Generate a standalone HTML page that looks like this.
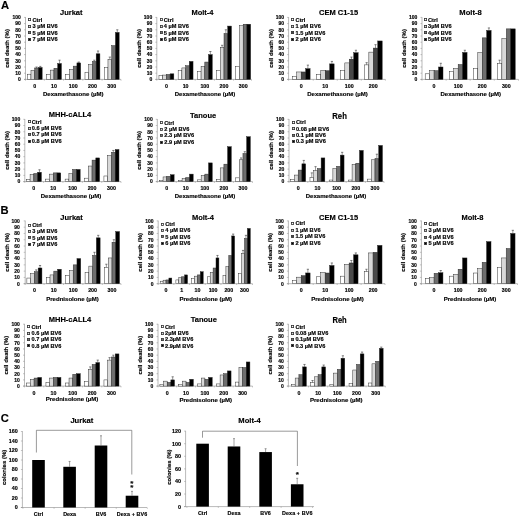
<!DOCTYPE html>
<html><head><meta charset="utf-8"><style>
html,body{margin:0;padding:0;background:#fff;}
body{width:520px;height:517px;overflow:hidden;}
svg{display:block;font-family:"Liberation Sans", sans-serif;filter:grayscale(1);}
</style></head><body>
<svg width="520" height="517" viewBox="0 0 520 517">
<rect width="520" height="517" fill="#fff"/>
<line x1="25.50" y1="17.10" x2="25.50" y2="79.40" stroke="#8a8a8a" stroke-width="0.6"/>
<line x1="24.00" y1="79.40" x2="121.00" y2="79.40" stroke="#8a8a8a" stroke-width="0.6"/>
<line x1="24.00" y1="79.40" x2="25.50" y2="79.40" stroke="#8a8a8a" stroke-width="0.5"/>
<text x="20.90" y="81.20" font-size="5.0" text-anchor="end" font-weight="bold" fill="#000" stroke="#000" stroke-width="0.15" >0</text>
<line x1="24.00" y1="73.20" x2="25.50" y2="73.20" stroke="#8a8a8a" stroke-width="0.5"/>
<text x="20.90" y="75.00" font-size="5.0" text-anchor="end" font-weight="bold" fill="#000" stroke="#000" stroke-width="0.15" >10</text>
<line x1="24.00" y1="67.00" x2="25.50" y2="67.00" stroke="#8a8a8a" stroke-width="0.5"/>
<text x="20.90" y="68.80" font-size="5.0" text-anchor="end" font-weight="bold" fill="#000" stroke="#000" stroke-width="0.15" >20</text>
<line x1="24.00" y1="60.80" x2="25.50" y2="60.80" stroke="#8a8a8a" stroke-width="0.5"/>
<text x="20.90" y="62.60" font-size="5.0" text-anchor="end" font-weight="bold" fill="#000" stroke="#000" stroke-width="0.15" >30</text>
<line x1="24.00" y1="54.60" x2="25.50" y2="54.60" stroke="#8a8a8a" stroke-width="0.5"/>
<text x="20.90" y="56.40" font-size="5.0" text-anchor="end" font-weight="bold" fill="#000" stroke="#000" stroke-width="0.15" >40</text>
<line x1="24.00" y1="48.40" x2="25.50" y2="48.40" stroke="#8a8a8a" stroke-width="0.5"/>
<text x="20.90" y="50.20" font-size="5.0" text-anchor="end" font-weight="bold" fill="#000" stroke="#000" stroke-width="0.15" >50</text>
<line x1="24.00" y1="42.20" x2="25.50" y2="42.20" stroke="#8a8a8a" stroke-width="0.5"/>
<text x="20.90" y="44.00" font-size="5.0" text-anchor="end" font-weight="bold" fill="#000" stroke="#000" stroke-width="0.15" >60</text>
<line x1="24.00" y1="36.00" x2="25.50" y2="36.00" stroke="#8a8a8a" stroke-width="0.5"/>
<text x="20.90" y="37.80" font-size="5.0" text-anchor="end" font-weight="bold" fill="#000" stroke="#000" stroke-width="0.15" >70</text>
<line x1="24.00" y1="29.80" x2="25.50" y2="29.80" stroke="#8a8a8a" stroke-width="0.5"/>
<text x="20.90" y="31.60" font-size="5.0" text-anchor="end" font-weight="bold" fill="#000" stroke="#000" stroke-width="0.15" >80</text>
<line x1="24.00" y1="23.60" x2="25.50" y2="23.60" stroke="#8a8a8a" stroke-width="0.5"/>
<text x="20.90" y="25.40" font-size="5.0" text-anchor="end" font-weight="bold" fill="#000" stroke="#000" stroke-width="0.15" >90</text>
<line x1="24.00" y1="17.40" x2="25.50" y2="17.40" stroke="#8a8a8a" stroke-width="0.5"/>
<text x="20.90" y="19.20" font-size="5.0" text-anchor="end" font-weight="bold" fill="#000" stroke="#000" stroke-width="0.15" >100</text>
<line x1="25.50" y1="79.40" x2="25.50" y2="80.70" stroke="#8a8a8a" stroke-width="0.5"/>
<line x1="44.33" y1="79.40" x2="44.33" y2="80.70" stroke="#8a8a8a" stroke-width="0.5"/>
<line x1="63.58" y1="79.40" x2="63.58" y2="80.70" stroke="#8a8a8a" stroke-width="0.5"/>
<line x1="82.83" y1="79.40" x2="82.83" y2="80.70" stroke="#8a8a8a" stroke-width="0.5"/>
<line x1="102.08" y1="79.40" x2="102.08" y2="80.70" stroke="#8a8a8a" stroke-width="0.5"/>
<line x1="121.00" y1="79.40" x2="121.00" y2="80.70" stroke="#8a8a8a" stroke-width="0.5"/>
<rect x="27.24" y="74.19" width="3.73" height="5.21" fill="#ffffff" stroke="#222" stroke-width="0.45"/>
<rect x="30.97" y="70.22" width="3.73" height="9.18" fill="#d8d8d8" stroke="#222" stroke-width="0.45"/>
<rect x="34.70" y="67.99" width="3.73" height="11.41" fill="#6e6e6e" stroke="#222" stroke-width="0.45"/>
<line x1="36.56" y1="67.00" x2="36.56" y2="67.99" stroke="#444" stroke-width="0.55"/>
<line x1="35.46" y1="67.00" x2="37.66" y2="67.00" stroke="#333" stroke-width="0.6"/>
<rect x="38.43" y="67.50" width="3.73" height="11.90" fill="#000000" stroke="#222" stroke-width="0.45"/>
<line x1="40.29" y1="66.38" x2="40.29" y2="67.50" stroke="#444" stroke-width="0.55"/>
<line x1="39.19" y1="66.38" x2="41.39" y2="66.38" stroke="#333" stroke-width="0.6"/>
<text x="34.70" y="87.70" font-size="5.3" text-anchor="middle" font-weight="bold" fill="#000" stroke="#000" stroke-width="0.15" >0</text>
<rect x="46.49" y="74.44" width="3.73" height="4.96" fill="#ffffff" stroke="#222" stroke-width="0.45"/>
<rect x="50.22" y="70.10" width="3.73" height="9.30" fill="#d8d8d8" stroke="#222" stroke-width="0.45"/>
<rect x="53.95" y="68.24" width="3.73" height="11.16" fill="#6e6e6e" stroke="#222" stroke-width="0.45"/>
<rect x="57.68" y="63.53" width="3.73" height="15.87" fill="#000000" stroke="#222" stroke-width="0.45"/>
<line x1="59.54" y1="60.18" x2="59.54" y2="63.53" stroke="#444" stroke-width="0.55"/>
<line x1="58.44" y1="60.18" x2="60.64" y2="60.18" stroke="#333" stroke-width="0.6"/>
<text x="53.95" y="87.70" font-size="5.3" text-anchor="middle" font-weight="bold" fill="#000" stroke="#000" stroke-width="0.15" >10</text>
<rect x="65.74" y="74.44" width="3.73" height="4.96" fill="#ffffff" stroke="#222" stroke-width="0.45"/>
<rect x="69.47" y="69.23" width="3.73" height="10.17" fill="#d8d8d8" stroke="#222" stroke-width="0.45"/>
<rect x="73.20" y="66.13" width="3.73" height="13.27" fill="#6e6e6e" stroke="#222" stroke-width="0.45"/>
<rect x="76.93" y="62.91" width="3.73" height="16.49" fill="#000000" stroke="#222" stroke-width="0.45"/>
<line x1="78.79" y1="62.04" x2="78.79" y2="62.91" stroke="#444" stroke-width="0.55"/>
<line x1="77.69" y1="62.04" x2="79.89" y2="62.04" stroke="#333" stroke-width="0.6"/>
<text x="73.20" y="87.70" font-size="5.3" text-anchor="middle" font-weight="bold" fill="#000" stroke="#000" stroke-width="0.15" >100</text>
<rect x="84.99" y="72.21" width="3.73" height="7.19" fill="#ffffff" stroke="#222" stroke-width="0.45"/>
<rect x="88.72" y="64.52" width="3.73" height="14.88" fill="#d8d8d8" stroke="#222" stroke-width="0.45"/>
<rect x="92.45" y="61.48" width="3.73" height="17.92" fill="#6e6e6e" stroke="#222" stroke-width="0.45"/>
<line x1="94.31" y1="60.18" x2="94.31" y2="61.48" stroke="#444" stroke-width="0.55"/>
<line x1="93.21" y1="60.18" x2="95.41" y2="60.18" stroke="#333" stroke-width="0.6"/>
<rect x="96.18" y="53.79" width="3.73" height="25.61" fill="#000000" stroke="#222" stroke-width="0.45"/>
<line x1="98.04" y1="51.00" x2="98.04" y2="53.79" stroke="#444" stroke-width="0.55"/>
<line x1="96.94" y1="51.00" x2="99.14" y2="51.00" stroke="#333" stroke-width="0.6"/>
<text x="92.45" y="87.70" font-size="5.3" text-anchor="middle" font-weight="bold" fill="#000" stroke="#000" stroke-width="0.15" >200</text>
<rect x="104.24" y="67.31" width="3.73" height="12.09" fill="#ffffff" stroke="#222" stroke-width="0.45"/>
<rect x="107.97" y="59.25" width="3.73" height="20.15" fill="#d8d8d8" stroke="#222" stroke-width="0.45"/>
<line x1="109.84" y1="57.08" x2="109.84" y2="59.25" stroke="#444" stroke-width="0.55"/>
<line x1="108.74" y1="57.08" x2="110.94" y2="57.08" stroke="#333" stroke-width="0.6"/>
<rect x="111.70" y="45.61" width="3.73" height="33.79" fill="#6e6e6e" stroke="#222" stroke-width="0.45"/>
<rect x="115.43" y="32.40" width="3.73" height="47.00" fill="#000000" stroke="#222" stroke-width="0.45"/>
<line x1="117.29" y1="29.80" x2="117.29" y2="32.40" stroke="#444" stroke-width="0.55"/>
<line x1="116.19" y1="29.80" x2="118.39" y2="29.80" stroke="#333" stroke-width="0.6"/>
<text x="111.70" y="87.70" font-size="5.3" text-anchor="middle" font-weight="bold" fill="#000" stroke="#000" stroke-width="0.15" >300</text>
<text x="71.30" y="15.00" font-size="7.5" text-anchor="middle" font-weight="bold" fill="#000" stroke="#000" stroke-width="0.15" >Jurkat</text>
<text x="73.30" y="96.20" font-size="6.05" text-anchor="middle" font-weight="bold" fill="#000" stroke="#000" stroke-width="0.15" >Dexamethasone (µM)</text>
<text x="7.50" y="48.40" font-size="6.0" text-anchor="middle" font-weight="bold" fill="#000" stroke="#000" stroke-width="0.15" transform="rotate(-90 7.50 48.40)" dominant-baseline="central">cell death (%)</text>
<rect x="28.40" y="18.40" width="2.2" height="2.2" fill="#ffffff" stroke="#333" stroke-width="0.8"/>
<text x="32.50" y="21.80" font-size="5.0" text-anchor="start" font-weight="bold" fill="#000" stroke="#000" stroke-width="0.15" transform="translate(32.50 0) scale(1.13 1) translate(-32.50 0)">Ctrl</text>
<rect x="28.40" y="25.40" width="2.2" height="2.2" fill="#d8d8d8" stroke="#333" stroke-width="0.8"/>
<text x="32.50" y="28.20" font-size="5.0" text-anchor="start" font-weight="bold" fill="#000" stroke="#000" stroke-width="0.15" transform="translate(32.50 0) scale(1.13 1) translate(-32.50 0)">3 µM BV6</text>
<rect x="28.40" y="31.40" width="2.2" height="2.2" fill="#7a7a7a" stroke="#333" stroke-width="0.8"/>
<text x="32.50" y="34.60" font-size="5.0" text-anchor="start" font-weight="bold" fill="#000" stroke="#000" stroke-width="0.15" transform="translate(32.50 0) scale(1.13 1) translate(-32.50 0)">5 µM BV6</text>
<rect x="28.40" y="38.40" width="2.2" height="2.2" fill="#000000" stroke="#333" stroke-width="0.8"/>
<text x="32.50" y="41.00" font-size="5.0" text-anchor="start" font-weight="bold" fill="#000" stroke="#000" stroke-width="0.15" transform="translate(32.50 0) scale(1.13 1) translate(-32.50 0)">7 µM BV6</text>
<line x1="156.80" y1="17.10" x2="156.80" y2="79.40" stroke="#8a8a8a" stroke-width="0.6"/>
<line x1="155.30" y1="79.40" x2="251.50" y2="79.40" stroke="#8a8a8a" stroke-width="0.6"/>
<line x1="155.30" y1="79.40" x2="156.80" y2="79.40" stroke="#8a8a8a" stroke-width="0.5"/>
<text x="152.20" y="81.20" font-size="5.0" text-anchor="end" font-weight="bold" fill="#000" stroke="#000" stroke-width="0.15" >0</text>
<line x1="155.30" y1="73.20" x2="156.80" y2="73.20" stroke="#8a8a8a" stroke-width="0.5"/>
<text x="152.20" y="75.00" font-size="5.0" text-anchor="end" font-weight="bold" fill="#000" stroke="#000" stroke-width="0.15" >10</text>
<line x1="155.30" y1="67.00" x2="156.80" y2="67.00" stroke="#8a8a8a" stroke-width="0.5"/>
<text x="152.20" y="68.80" font-size="5.0" text-anchor="end" font-weight="bold" fill="#000" stroke="#000" stroke-width="0.15" >20</text>
<line x1="155.30" y1="60.80" x2="156.80" y2="60.80" stroke="#8a8a8a" stroke-width="0.5"/>
<text x="152.20" y="62.60" font-size="5.0" text-anchor="end" font-weight="bold" fill="#000" stroke="#000" stroke-width="0.15" >30</text>
<line x1="155.30" y1="54.60" x2="156.80" y2="54.60" stroke="#8a8a8a" stroke-width="0.5"/>
<text x="152.20" y="56.40" font-size="5.0" text-anchor="end" font-weight="bold" fill="#000" stroke="#000" stroke-width="0.15" >40</text>
<line x1="155.30" y1="48.40" x2="156.80" y2="48.40" stroke="#8a8a8a" stroke-width="0.5"/>
<text x="152.20" y="50.20" font-size="5.0" text-anchor="end" font-weight="bold" fill="#000" stroke="#000" stroke-width="0.15" >50</text>
<line x1="155.30" y1="42.20" x2="156.80" y2="42.20" stroke="#8a8a8a" stroke-width="0.5"/>
<text x="152.20" y="44.00" font-size="5.0" text-anchor="end" font-weight="bold" fill="#000" stroke="#000" stroke-width="0.15" >60</text>
<line x1="155.30" y1="36.00" x2="156.80" y2="36.00" stroke="#8a8a8a" stroke-width="0.5"/>
<text x="152.20" y="37.80" font-size="5.0" text-anchor="end" font-weight="bold" fill="#000" stroke="#000" stroke-width="0.15" >70</text>
<line x1="155.30" y1="29.80" x2="156.80" y2="29.80" stroke="#8a8a8a" stroke-width="0.5"/>
<text x="152.20" y="31.60" font-size="5.0" text-anchor="end" font-weight="bold" fill="#000" stroke="#000" stroke-width="0.15" >80</text>
<line x1="155.30" y1="23.60" x2="156.80" y2="23.60" stroke="#8a8a8a" stroke-width="0.5"/>
<text x="152.20" y="25.40" font-size="5.0" text-anchor="end" font-weight="bold" fill="#000" stroke="#000" stroke-width="0.15" >90</text>
<line x1="155.30" y1="17.40" x2="156.80" y2="17.40" stroke="#8a8a8a" stroke-width="0.5"/>
<text x="152.20" y="19.20" font-size="5.0" text-anchor="end" font-weight="bold" fill="#000" stroke="#000" stroke-width="0.15" >100</text>
<line x1="156.80" y1="79.40" x2="156.80" y2="80.70" stroke="#8a8a8a" stroke-width="0.5"/>
<line x1="176.00" y1="79.40" x2="176.00" y2="80.70" stroke="#8a8a8a" stroke-width="0.5"/>
<line x1="195.20" y1="79.40" x2="195.20" y2="80.70" stroke="#8a8a8a" stroke-width="0.5"/>
<line x1="214.40" y1="79.40" x2="214.40" y2="80.70" stroke="#8a8a8a" stroke-width="0.5"/>
<line x1="233.60" y1="79.40" x2="233.60" y2="80.70" stroke="#8a8a8a" stroke-width="0.5"/>
<line x1="251.50" y1="79.40" x2="251.50" y2="80.70" stroke="#8a8a8a" stroke-width="0.5"/>
<rect x="158.96" y="75.68" width="3.72" height="3.72" fill="#ffffff" stroke="#222" stroke-width="0.45"/>
<rect x="162.68" y="75.06" width="3.72" height="4.34" fill="#d8d8d8" stroke="#222" stroke-width="0.45"/>
<rect x="166.40" y="74.44" width="3.72" height="4.96" fill="#6e6e6e" stroke="#222" stroke-width="0.45"/>
<rect x="170.12" y="73.82" width="3.72" height="5.58" fill="#000000" stroke="#222" stroke-width="0.45"/>
<text x="166.40" y="87.70" font-size="5.3" text-anchor="middle" font-weight="bold" fill="#000" stroke="#000" stroke-width="0.15" >0</text>
<rect x="178.16" y="70.72" width="3.72" height="8.68" fill="#ffffff" stroke="#222" stroke-width="0.45"/>
<rect x="181.88" y="67.93" width="3.72" height="11.47" fill="#d8d8d8" stroke="#222" stroke-width="0.45"/>
<rect x="185.60" y="65.76" width="3.72" height="13.64" fill="#6e6e6e" stroke="#222" stroke-width="0.45"/>
<rect x="189.32" y="61.42" width="3.72" height="17.98" fill="#000000" stroke="#222" stroke-width="0.45"/>
<text x="185.60" y="87.70" font-size="5.3" text-anchor="middle" font-weight="bold" fill="#000" stroke="#000" stroke-width="0.15" >10</text>
<rect x="197.36" y="71.34" width="3.72" height="8.06" fill="#ffffff" stroke="#222" stroke-width="0.45"/>
<rect x="201.08" y="66.38" width="3.72" height="13.02" fill="#d8d8d8" stroke="#222" stroke-width="0.45"/>
<rect x="204.80" y="62.04" width="3.72" height="17.36" fill="#6e6e6e" stroke="#222" stroke-width="0.45"/>
<rect x="208.52" y="54.60" width="3.72" height="24.80" fill="#000000" stroke="#222" stroke-width="0.45"/>
<line x1="210.38" y1="51.50" x2="210.38" y2="54.60" stroke="#444" stroke-width="0.55"/>
<line x1="209.28" y1="51.50" x2="211.48" y2="51.50" stroke="#333" stroke-width="0.6"/>
<text x="204.80" y="87.70" font-size="5.3" text-anchor="middle" font-weight="bold" fill="#000" stroke="#000" stroke-width="0.15" >100</text>
<rect x="216.56" y="70.41" width="3.72" height="8.99" fill="#ffffff" stroke="#222" stroke-width="0.45"/>
<rect x="220.28" y="47.41" width="3.72" height="31.99" fill="#d8d8d8" stroke="#222" stroke-width="0.45"/>
<line x1="222.14" y1="45.30" x2="222.14" y2="47.41" stroke="#444" stroke-width="0.55"/>
<line x1="221.04" y1="45.30" x2="223.24" y2="45.30" stroke="#333" stroke-width="0.6"/>
<rect x="224.00" y="33.52" width="3.72" height="45.88" fill="#6e6e6e" stroke="#222" stroke-width="0.45"/>
<line x1="225.86" y1="29.80" x2="225.86" y2="33.52" stroke="#444" stroke-width="0.55"/>
<line x1="224.76" y1="29.80" x2="226.96" y2="29.80" stroke="#333" stroke-width="0.6"/>
<rect x="227.72" y="26.08" width="3.72" height="53.32" fill="#000000" stroke="#222" stroke-width="0.45"/>
<text x="224.00" y="87.70" font-size="5.3" text-anchor="middle" font-weight="bold" fill="#000" stroke="#000" stroke-width="0.15" >200</text>
<rect x="235.76" y="66.38" width="3.72" height="13.02" fill="#ffffff" stroke="#222" stroke-width="0.45"/>
<rect x="239.48" y="25.77" width="3.72" height="53.63" fill="#d8d8d8" stroke="#222" stroke-width="0.45"/>
<rect x="243.20" y="24.22" width="3.72" height="55.18" fill="#6e6e6e" stroke="#222" stroke-width="0.45"/>
<rect x="246.92" y="24.22" width="3.72" height="55.18" fill="#000000" stroke="#222" stroke-width="0.45"/>
<text x="243.20" y="87.70" font-size="5.3" text-anchor="middle" font-weight="bold" fill="#000" stroke="#000" stroke-width="0.15" >300</text>
<text x="202.50" y="15.00" font-size="7.5" text-anchor="middle" font-weight="bold" fill="#000" stroke="#000" stroke-width="0.15" >Molt-4</text>
<text x="205.00" y="96.20" font-size="6.05" text-anchor="middle" font-weight="bold" fill="#000" stroke="#000" stroke-width="0.15" >Dexamethasone (µM)</text>
<text x="138.80" y="48.40" font-size="6.0" text-anchor="middle" font-weight="bold" fill="#000" stroke="#000" stroke-width="0.15" transform="rotate(-90 138.80 48.40)" dominant-baseline="central">cell death (%)</text>
<rect x="160.40" y="18.40" width="2.2" height="2.2" fill="#ffffff" stroke="#333" stroke-width="0.8"/>
<text x="163.80" y="21.80" font-size="5.0" text-anchor="start" font-weight="bold" fill="#000" stroke="#000" stroke-width="0.15" transform="translate(163.80 0) scale(1.13 1) translate(-163.80 0)">Ctrl</text>
<rect x="160.40" y="25.40" width="2.2" height="2.2" fill="#d8d8d8" stroke="#333" stroke-width="0.8"/>
<text x="163.80" y="28.20" font-size="5.0" text-anchor="start" font-weight="bold" fill="#000" stroke="#000" stroke-width="0.15" transform="translate(163.80 0) scale(1.13 1) translate(-163.80 0)">4 µM BV6</text>
<rect x="160.40" y="31.40" width="2.2" height="2.2" fill="#7a7a7a" stroke="#333" stroke-width="0.8"/>
<text x="163.80" y="34.60" font-size="5.0" text-anchor="start" font-weight="bold" fill="#000" stroke="#000" stroke-width="0.15" transform="translate(163.80 0) scale(1.13 1) translate(-163.80 0)">5 µM BV6</text>
<rect x="160.40" y="38.40" width="2.2" height="2.2" fill="#000000" stroke="#333" stroke-width="0.8"/>
<text x="163.80" y="41.00" font-size="5.0" text-anchor="start" font-weight="bold" fill="#000" stroke="#000" stroke-width="0.15" transform="translate(163.80 0) scale(1.13 1) translate(-163.80 0)">6 µM BV6</text>
<line x1="288.60" y1="17.10" x2="288.60" y2="79.40" stroke="#8a8a8a" stroke-width="0.6"/>
<line x1="287.10" y1="79.40" x2="385.40" y2="79.40" stroke="#8a8a8a" stroke-width="0.6"/>
<line x1="287.10" y1="79.40" x2="288.60" y2="79.40" stroke="#8a8a8a" stroke-width="0.5"/>
<text x="284.00" y="81.20" font-size="5.0" text-anchor="end" font-weight="bold" fill="#000" stroke="#000" stroke-width="0.15" >0</text>
<line x1="287.10" y1="73.20" x2="288.60" y2="73.20" stroke="#8a8a8a" stroke-width="0.5"/>
<text x="284.00" y="75.00" font-size="5.0" text-anchor="end" font-weight="bold" fill="#000" stroke="#000" stroke-width="0.15" >10</text>
<line x1="287.10" y1="67.00" x2="288.60" y2="67.00" stroke="#8a8a8a" stroke-width="0.5"/>
<text x="284.00" y="68.80" font-size="5.0" text-anchor="end" font-weight="bold" fill="#000" stroke="#000" stroke-width="0.15" >20</text>
<line x1="287.10" y1="60.80" x2="288.60" y2="60.80" stroke="#8a8a8a" stroke-width="0.5"/>
<text x="284.00" y="62.60" font-size="5.0" text-anchor="end" font-weight="bold" fill="#000" stroke="#000" stroke-width="0.15" >30</text>
<line x1="287.10" y1="54.60" x2="288.60" y2="54.60" stroke="#8a8a8a" stroke-width="0.5"/>
<text x="284.00" y="56.40" font-size="5.0" text-anchor="end" font-weight="bold" fill="#000" stroke="#000" stroke-width="0.15" >40</text>
<line x1="287.10" y1="48.40" x2="288.60" y2="48.40" stroke="#8a8a8a" stroke-width="0.5"/>
<text x="284.00" y="50.20" font-size="5.0" text-anchor="end" font-weight="bold" fill="#000" stroke="#000" stroke-width="0.15" >50</text>
<line x1="287.10" y1="42.20" x2="288.60" y2="42.20" stroke="#8a8a8a" stroke-width="0.5"/>
<text x="284.00" y="44.00" font-size="5.0" text-anchor="end" font-weight="bold" fill="#000" stroke="#000" stroke-width="0.15" >60</text>
<line x1="287.10" y1="36.00" x2="288.60" y2="36.00" stroke="#8a8a8a" stroke-width="0.5"/>
<text x="284.00" y="37.80" font-size="5.0" text-anchor="end" font-weight="bold" fill="#000" stroke="#000" stroke-width="0.15" >70</text>
<line x1="287.10" y1="29.80" x2="288.60" y2="29.80" stroke="#8a8a8a" stroke-width="0.5"/>
<text x="284.00" y="31.60" font-size="5.0" text-anchor="end" font-weight="bold" fill="#000" stroke="#000" stroke-width="0.15" >80</text>
<line x1="287.10" y1="23.60" x2="288.60" y2="23.60" stroke="#8a8a8a" stroke-width="0.5"/>
<text x="284.00" y="25.40" font-size="5.0" text-anchor="end" font-weight="bold" fill="#000" stroke="#000" stroke-width="0.15" >90</text>
<line x1="287.10" y1="17.40" x2="288.60" y2="17.40" stroke="#8a8a8a" stroke-width="0.5"/>
<text x="284.00" y="19.20" font-size="5.0" text-anchor="end" font-weight="bold" fill="#000" stroke="#000" stroke-width="0.15" >100</text>
<line x1="288.60" y1="79.40" x2="288.60" y2="80.70" stroke="#8a8a8a" stroke-width="0.5"/>
<line x1="313.22" y1="79.40" x2="313.22" y2="80.70" stroke="#8a8a8a" stroke-width="0.5"/>
<line x1="337.25" y1="79.40" x2="337.25" y2="80.70" stroke="#8a8a8a" stroke-width="0.5"/>
<line x1="361.27" y1="79.40" x2="361.27" y2="80.70" stroke="#8a8a8a" stroke-width="0.5"/>
<line x1="385.40" y1="79.40" x2="385.40" y2="80.70" stroke="#8a8a8a" stroke-width="0.5"/>
<rect x="292.31" y="76.42" width="4.45" height="2.98" fill="#ffffff" stroke="#222" stroke-width="0.45"/>
<rect x="296.75" y="71.96" width="4.45" height="7.44" fill="#d8d8d8" stroke="#222" stroke-width="0.45"/>
<rect x="301.20" y="71.96" width="4.45" height="7.44" fill="#464646" stroke="#222" stroke-width="0.45"/>
<rect x="305.65" y="68.67" width="4.45" height="10.73" fill="#000000" stroke="#222" stroke-width="0.45"/>
<line x1="307.87" y1="65.14" x2="307.87" y2="68.67" stroke="#444" stroke-width="0.55"/>
<line x1="306.77" y1="65.14" x2="308.97" y2="65.14" stroke="#333" stroke-width="0.6"/>
<text x="301.20" y="87.70" font-size="5.3" text-anchor="middle" font-weight="bold" fill="#000" stroke="#000" stroke-width="0.15" >0</text>
<rect x="316.34" y="74.44" width="4.45" height="4.96" fill="#ffffff" stroke="#222" stroke-width="0.45"/>
<rect x="320.78" y="70.41" width="4.45" height="8.99" fill="#d8d8d8" stroke="#222" stroke-width="0.45"/>
<rect x="325.23" y="70.72" width="4.45" height="8.68" fill="#464646" stroke="#222" stroke-width="0.45"/>
<rect x="329.68" y="63.90" width="4.45" height="15.50" fill="#000000" stroke="#222" stroke-width="0.45"/>
<line x1="331.90" y1="61.42" x2="331.90" y2="63.90" stroke="#444" stroke-width="0.55"/>
<line x1="330.80" y1="61.42" x2="333.00" y2="61.42" stroke="#333" stroke-width="0.6"/>
<text x="325.23" y="87.70" font-size="5.3" text-anchor="middle" font-weight="bold" fill="#000" stroke="#000" stroke-width="0.15" >10</text>
<rect x="340.37" y="70.41" width="4.45" height="8.99" fill="#ffffff" stroke="#222" stroke-width="0.45"/>
<rect x="344.81" y="62.91" width="4.45" height="16.49" fill="#d8d8d8" stroke="#222" stroke-width="0.45"/>
<rect x="349.26" y="59.19" width="4.45" height="20.21" fill="#464646" stroke="#222" stroke-width="0.45"/>
<line x1="351.48" y1="57.08" x2="351.48" y2="59.19" stroke="#444" stroke-width="0.55"/>
<line x1="350.38" y1="57.08" x2="352.58" y2="57.08" stroke="#333" stroke-width="0.6"/>
<rect x="353.71" y="52.74" width="4.45" height="26.66" fill="#000000" stroke="#222" stroke-width="0.45"/>
<line x1="355.93" y1="50.26" x2="355.93" y2="52.74" stroke="#444" stroke-width="0.55"/>
<line x1="354.83" y1="50.26" x2="357.03" y2="50.26" stroke="#333" stroke-width="0.6"/>
<text x="349.26" y="87.70" font-size="5.3" text-anchor="middle" font-weight="bold" fill="#000" stroke="#000" stroke-width="0.15" >100</text>
<rect x="364.40" y="64.89" width="4.45" height="14.51" fill="#ffffff" stroke="#222" stroke-width="0.45"/>
<line x1="366.62" y1="62.66" x2="366.62" y2="64.89" stroke="#444" stroke-width="0.55"/>
<line x1="365.52" y1="62.66" x2="367.72" y2="62.66" stroke="#333" stroke-width="0.6"/>
<rect x="368.84" y="52.12" width="4.45" height="27.28" fill="#d8d8d8" stroke="#222" stroke-width="0.45"/>
<rect x="373.29" y="48.09" width="4.45" height="31.31" fill="#464646" stroke="#222" stroke-width="0.45"/>
<line x1="375.51" y1="44.68" x2="375.51" y2="48.09" stroke="#444" stroke-width="0.55"/>
<line x1="374.41" y1="44.68" x2="376.61" y2="44.68" stroke="#333" stroke-width="0.6"/>
<rect x="377.74" y="40.96" width="4.45" height="38.44" fill="#000000" stroke="#222" stroke-width="0.45"/>
<text x="373.29" y="87.70" font-size="5.3" text-anchor="middle" font-weight="bold" fill="#000" stroke="#000" stroke-width="0.15" >200</text>
<text x="338.60" y="15.00" font-size="7.5" text-anchor="middle" font-weight="bold" fill="#000" stroke="#000" stroke-width="0.15" >CEM C1-15</text>
<text x="337.50" y="96.20" font-size="6.05" text-anchor="middle" font-weight="bold" fill="#000" stroke="#000" stroke-width="0.15" >Dexamethasone (µM)</text>
<text x="270.60" y="48.40" font-size="6.0" text-anchor="middle" font-weight="bold" fill="#000" stroke="#000" stroke-width="0.15" transform="rotate(-90 270.60 48.40)" dominant-baseline="central">cell death (%)</text>
<rect x="291.40" y="18.40" width="2.2" height="2.2" fill="#ffffff" stroke="#333" stroke-width="0.8"/>
<text x="295.60" y="21.80" font-size="5.0" text-anchor="start" font-weight="bold" fill="#000" stroke="#000" stroke-width="0.15" transform="translate(295.60 0) scale(1.13 1) translate(-295.60 0)">Ctrl</text>
<rect x="291.40" y="25.40" width="2.2" height="2.2" fill="#d8d8d8" stroke="#333" stroke-width="0.8"/>
<text x="295.60" y="28.20" font-size="5.0" text-anchor="start" font-weight="bold" fill="#000" stroke="#000" stroke-width="0.15" transform="translate(295.60 0) scale(1.13 1) translate(-295.60 0)">1 µM BV6</text>
<rect x="291.40" y="31.40" width="2.2" height="2.2" fill="#464646" stroke="#333" stroke-width="0.8"/>
<text x="295.60" y="34.60" font-size="5.0" text-anchor="start" font-weight="bold" fill="#000" stroke="#000" stroke-width="0.15" transform="translate(295.60 0) scale(1.13 1) translate(-295.60 0)">1.5 µM BV6</text>
<rect x="291.40" y="38.40" width="2.2" height="2.2" fill="#000000" stroke="#333" stroke-width="0.8"/>
<text x="295.60" y="41.00" font-size="5.0" text-anchor="start" font-weight="bold" fill="#000" stroke="#000" stroke-width="0.15" transform="translate(295.60 0) scale(1.13 1) translate(-295.60 0)">2 µM BV6</text>
<line x1="422.00" y1="17.10" x2="422.00" y2="79.40" stroke="#8a8a8a" stroke-width="0.6"/>
<line x1="420.50" y1="79.40" x2="518.50" y2="79.40" stroke="#8a8a8a" stroke-width="0.6"/>
<line x1="420.50" y1="79.40" x2="422.00" y2="79.40" stroke="#8a8a8a" stroke-width="0.5"/>
<text x="417.40" y="81.20" font-size="5.0" text-anchor="end" font-weight="bold" fill="#000" stroke="#000" stroke-width="0.15" >0</text>
<line x1="420.50" y1="73.20" x2="422.00" y2="73.20" stroke="#8a8a8a" stroke-width="0.5"/>
<text x="417.40" y="75.00" font-size="5.0" text-anchor="end" font-weight="bold" fill="#000" stroke="#000" stroke-width="0.15" >10</text>
<line x1="420.50" y1="67.00" x2="422.00" y2="67.00" stroke="#8a8a8a" stroke-width="0.5"/>
<text x="417.40" y="68.80" font-size="5.0" text-anchor="end" font-weight="bold" fill="#000" stroke="#000" stroke-width="0.15" >20</text>
<line x1="420.50" y1="60.80" x2="422.00" y2="60.80" stroke="#8a8a8a" stroke-width="0.5"/>
<text x="417.40" y="62.60" font-size="5.0" text-anchor="end" font-weight="bold" fill="#000" stroke="#000" stroke-width="0.15" >30</text>
<line x1="420.50" y1="54.60" x2="422.00" y2="54.60" stroke="#8a8a8a" stroke-width="0.5"/>
<text x="417.40" y="56.40" font-size="5.0" text-anchor="end" font-weight="bold" fill="#000" stroke="#000" stroke-width="0.15" >40</text>
<line x1="420.50" y1="48.40" x2="422.00" y2="48.40" stroke="#8a8a8a" stroke-width="0.5"/>
<text x="417.40" y="50.20" font-size="5.0" text-anchor="end" font-weight="bold" fill="#000" stroke="#000" stroke-width="0.15" >50</text>
<line x1="420.50" y1="42.20" x2="422.00" y2="42.20" stroke="#8a8a8a" stroke-width="0.5"/>
<text x="417.40" y="44.00" font-size="5.0" text-anchor="end" font-weight="bold" fill="#000" stroke="#000" stroke-width="0.15" >60</text>
<line x1="420.50" y1="36.00" x2="422.00" y2="36.00" stroke="#8a8a8a" stroke-width="0.5"/>
<text x="417.40" y="37.80" font-size="5.0" text-anchor="end" font-weight="bold" fill="#000" stroke="#000" stroke-width="0.15" >70</text>
<line x1="420.50" y1="29.80" x2="422.00" y2="29.80" stroke="#8a8a8a" stroke-width="0.5"/>
<text x="417.40" y="31.60" font-size="5.0" text-anchor="end" font-weight="bold" fill="#000" stroke="#000" stroke-width="0.15" >80</text>
<line x1="420.50" y1="23.60" x2="422.00" y2="23.60" stroke="#8a8a8a" stroke-width="0.5"/>
<text x="417.40" y="25.40" font-size="5.0" text-anchor="end" font-weight="bold" fill="#000" stroke="#000" stroke-width="0.15" >90</text>
<line x1="420.50" y1="17.40" x2="422.00" y2="17.40" stroke="#8a8a8a" stroke-width="0.5"/>
<text x="417.40" y="19.20" font-size="5.0" text-anchor="end" font-weight="bold" fill="#000" stroke="#000" stroke-width="0.15" >100</text>
<line x1="422.00" y1="79.40" x2="422.00" y2="80.70" stroke="#8a8a8a" stroke-width="0.5"/>
<line x1="446.13" y1="79.40" x2="446.13" y2="80.70" stroke="#8a8a8a" stroke-width="0.5"/>
<line x1="470.20" y1="79.40" x2="470.20" y2="80.70" stroke="#8a8a8a" stroke-width="0.5"/>
<line x1="494.27" y1="79.40" x2="494.27" y2="80.70" stroke="#8a8a8a" stroke-width="0.5"/>
<line x1="518.50" y1="79.40" x2="518.50" y2="80.70" stroke="#8a8a8a" stroke-width="0.5"/>
<rect x="425.19" y="73.82" width="4.45" height="5.58" fill="#ffffff" stroke="#222" stroke-width="0.45"/>
<rect x="429.65" y="70.72" width="4.45" height="8.68" fill="#d8d8d8" stroke="#222" stroke-width="0.45"/>
<rect x="434.10" y="70.72" width="4.45" height="8.68" fill="#6e6e6e" stroke="#222" stroke-width="0.45"/>
<rect x="438.55" y="67.00" width="4.45" height="12.40" fill="#000000" stroke="#222" stroke-width="0.45"/>
<line x1="440.78" y1="63.28" x2="440.78" y2="67.00" stroke="#444" stroke-width="0.55"/>
<line x1="439.68" y1="63.28" x2="441.88" y2="63.28" stroke="#333" stroke-width="0.6"/>
<text x="434.10" y="87.70" font-size="5.3" text-anchor="middle" font-weight="bold" fill="#000" stroke="#000" stroke-width="0.15" >0</text>
<rect x="449.26" y="71.34" width="4.45" height="8.06" fill="#ffffff" stroke="#222" stroke-width="0.45"/>
<rect x="453.72" y="68.24" width="4.45" height="11.16" fill="#d8d8d8" stroke="#222" stroke-width="0.45"/>
<rect x="458.17" y="64.52" width="4.45" height="14.88" fill="#6e6e6e" stroke="#222" stroke-width="0.45"/>
<rect x="462.62" y="52.43" width="4.45" height="26.97" fill="#000000" stroke="#222" stroke-width="0.45"/>
<line x1="464.85" y1="50.26" x2="464.85" y2="52.43" stroke="#444" stroke-width="0.55"/>
<line x1="463.75" y1="50.26" x2="465.95" y2="50.26" stroke="#333" stroke-width="0.6"/>
<text x="458.17" y="87.70" font-size="5.3" text-anchor="middle" font-weight="bold" fill="#000" stroke="#000" stroke-width="0.15" >100</text>
<rect x="473.33" y="68.24" width="4.45" height="11.16" fill="#ffffff" stroke="#222" stroke-width="0.45"/>
<rect x="477.79" y="52.43" width="4.45" height="26.97" fill="#d8d8d8" stroke="#222" stroke-width="0.45"/>
<rect x="482.24" y="37.86" width="4.45" height="41.54" fill="#6e6e6e" stroke="#222" stroke-width="0.45"/>
<rect x="486.69" y="30.42" width="4.45" height="48.98" fill="#000000" stroke="#222" stroke-width="0.45"/>
<line x1="488.92" y1="27.94" x2="488.92" y2="30.42" stroke="#444" stroke-width="0.55"/>
<line x1="487.82" y1="27.94" x2="490.02" y2="27.94" stroke="#333" stroke-width="0.6"/>
<text x="482.24" y="87.70" font-size="5.3" text-anchor="middle" font-weight="bold" fill="#000" stroke="#000" stroke-width="0.15" >200</text>
<rect x="497.40" y="63.28" width="4.45" height="16.12" fill="#ffffff" stroke="#222" stroke-width="0.45"/>
<line x1="499.63" y1="60.18" x2="499.63" y2="63.28" stroke="#444" stroke-width="0.55"/>
<line x1="498.53" y1="60.18" x2="500.73" y2="60.18" stroke="#333" stroke-width="0.6"/>
<rect x="501.86" y="38.48" width="4.45" height="40.92" fill="#d8d8d8" stroke="#222" stroke-width="0.45"/>
<rect x="506.31" y="28.87" width="4.45" height="50.53" fill="#6e6e6e" stroke="#222" stroke-width="0.45"/>
<rect x="510.76" y="28.87" width="4.45" height="50.53" fill="#000000" stroke="#222" stroke-width="0.45"/>
<text x="506.31" y="87.70" font-size="5.3" text-anchor="middle" font-weight="bold" fill="#000" stroke="#000" stroke-width="0.15" >300</text>
<text x="470.50" y="15.00" font-size="7.6" text-anchor="middle" font-weight="bold" fill="#000" stroke="#000" stroke-width="0.15" >Molt-8</text>
<text x="470.80" y="96.20" font-size="6.05" text-anchor="middle" font-weight="bold" fill="#000" stroke="#000" stroke-width="0.15" >Dexamethasone (µM)</text>
<text x="404.00" y="48.40" font-size="6.0" text-anchor="middle" font-weight="bold" fill="#000" stroke="#000" stroke-width="0.15" transform="rotate(-90 404.00 48.40)" dominant-baseline="central">cell death (%)</text>
<rect x="424.40" y="18.40" width="2.2" height="2.2" fill="#ffffff" stroke="#333" stroke-width="0.8"/>
<text x="428.00" y="21.80" font-size="5.0" text-anchor="start" font-weight="bold" fill="#000" stroke="#000" stroke-width="0.15" transform="translate(428.00 0) scale(1.13 1) translate(-428.00 0)">Ctrl</text>
<rect x="424.40" y="25.40" width="2.2" height="2.2" fill="#d8d8d8" stroke="#333" stroke-width="0.8"/>
<text x="428.00" y="28.20" font-size="5.0" text-anchor="start" font-weight="bold" fill="#000" stroke="#000" stroke-width="0.15" transform="translate(428.00 0) scale(1.13 1) translate(-428.00 0)">3µM BV6</text>
<rect x="424.40" y="31.40" width="2.2" height="2.2" fill="#7a7a7a" stroke="#333" stroke-width="0.8"/>
<text x="428.00" y="34.60" font-size="5.0" text-anchor="start" font-weight="bold" fill="#000" stroke="#000" stroke-width="0.15" transform="translate(428.00 0) scale(1.13 1) translate(-428.00 0)">4µM BV6</text>
<rect x="424.40" y="38.40" width="2.2" height="2.2" fill="#000000" stroke="#333" stroke-width="0.8"/>
<text x="428.00" y="41.00" font-size="5.0" text-anchor="start" font-weight="bold" fill="#000" stroke="#000" stroke-width="0.15" transform="translate(428.00 0) scale(1.13 1) translate(-428.00 0)">5µM BV6</text>
<line x1="24.80" y1="119.00" x2="24.80" y2="181.60" stroke="#8a8a8a" stroke-width="0.6"/>
<line x1="23.30" y1="181.60" x2="121.00" y2="181.60" stroke="#8a8a8a" stroke-width="0.6"/>
<line x1="23.30" y1="181.60" x2="24.80" y2="181.60" stroke="#8a8a8a" stroke-width="0.5"/>
<text x="20.20" y="183.40" font-size="5.0" text-anchor="end" font-weight="bold" fill="#000" stroke="#000" stroke-width="0.15" >0</text>
<line x1="23.30" y1="175.37" x2="24.80" y2="175.37" stroke="#8a8a8a" stroke-width="0.5"/>
<text x="20.20" y="177.17" font-size="5.0" text-anchor="end" font-weight="bold" fill="#000" stroke="#000" stroke-width="0.15" >10</text>
<line x1="23.30" y1="169.14" x2="24.80" y2="169.14" stroke="#8a8a8a" stroke-width="0.5"/>
<text x="20.20" y="170.94" font-size="5.0" text-anchor="end" font-weight="bold" fill="#000" stroke="#000" stroke-width="0.15" >20</text>
<line x1="23.30" y1="162.91" x2="24.80" y2="162.91" stroke="#8a8a8a" stroke-width="0.5"/>
<text x="20.20" y="164.71" font-size="5.0" text-anchor="end" font-weight="bold" fill="#000" stroke="#000" stroke-width="0.15" >30</text>
<line x1="23.30" y1="156.68" x2="24.80" y2="156.68" stroke="#8a8a8a" stroke-width="0.5"/>
<text x="20.20" y="158.48" font-size="5.0" text-anchor="end" font-weight="bold" fill="#000" stroke="#000" stroke-width="0.15" >40</text>
<line x1="23.30" y1="150.45" x2="24.80" y2="150.45" stroke="#8a8a8a" stroke-width="0.5"/>
<text x="20.20" y="152.25" font-size="5.0" text-anchor="end" font-weight="bold" fill="#000" stroke="#000" stroke-width="0.15" >50</text>
<line x1="23.30" y1="144.22" x2="24.80" y2="144.22" stroke="#8a8a8a" stroke-width="0.5"/>
<text x="20.20" y="146.02" font-size="5.0" text-anchor="end" font-weight="bold" fill="#000" stroke="#000" stroke-width="0.15" >60</text>
<line x1="23.30" y1="137.99" x2="24.80" y2="137.99" stroke="#8a8a8a" stroke-width="0.5"/>
<text x="20.20" y="139.79" font-size="5.0" text-anchor="end" font-weight="bold" fill="#000" stroke="#000" stroke-width="0.15" >70</text>
<line x1="23.30" y1="131.76" x2="24.80" y2="131.76" stroke="#8a8a8a" stroke-width="0.5"/>
<text x="20.20" y="133.56" font-size="5.0" text-anchor="end" font-weight="bold" fill="#000" stroke="#000" stroke-width="0.15" >80</text>
<line x1="23.30" y1="125.53" x2="24.80" y2="125.53" stroke="#8a8a8a" stroke-width="0.5"/>
<text x="20.20" y="127.33" font-size="5.0" text-anchor="end" font-weight="bold" fill="#000" stroke="#000" stroke-width="0.15" >90</text>
<line x1="23.30" y1="119.30" x2="24.80" y2="119.30" stroke="#8a8a8a" stroke-width="0.5"/>
<text x="20.20" y="121.10" font-size="5.0" text-anchor="end" font-weight="bold" fill="#000" stroke="#000" stroke-width="0.15" >100</text>
<line x1="24.80" y1="181.60" x2="24.80" y2="182.90" stroke="#8a8a8a" stroke-width="0.5"/>
<line x1="43.55" y1="181.60" x2="43.55" y2="182.90" stroke="#8a8a8a" stroke-width="0.5"/>
<line x1="62.95" y1="181.60" x2="62.95" y2="182.90" stroke="#8a8a8a" stroke-width="0.5"/>
<line x1="82.35" y1="181.60" x2="82.35" y2="182.90" stroke="#8a8a8a" stroke-width="0.5"/>
<line x1="101.75" y1="181.60" x2="101.75" y2="182.90" stroke="#8a8a8a" stroke-width="0.5"/>
<line x1="121.00" y1="181.60" x2="121.00" y2="182.90" stroke="#8a8a8a" stroke-width="0.5"/>
<rect x="26.33" y="179.42" width="3.76" height="2.18" fill="#ffffff" stroke="#222" stroke-width="0.45"/>
<rect x="30.09" y="174.44" width="3.76" height="7.16" fill="#d8d8d8" stroke="#222" stroke-width="0.45"/>
<rect x="33.85" y="173.50" width="3.76" height="8.10" fill="#6e6e6e" stroke="#222" stroke-width="0.45"/>
<rect x="37.61" y="172.25" width="3.76" height="9.35" fill="#000000" stroke="#222" stroke-width="0.45"/>
<line x1="39.49" y1="169.76" x2="39.49" y2="172.25" stroke="#444" stroke-width="0.55"/>
<line x1="38.39" y1="169.76" x2="40.59" y2="169.76" stroke="#333" stroke-width="0.6"/>
<text x="33.85" y="189.90" font-size="5.3" text-anchor="middle" font-weight="bold" fill="#000" stroke="#000" stroke-width="0.15" >0</text>
<rect x="45.73" y="179.11" width="3.76" height="2.49" fill="#ffffff" stroke="#222" stroke-width="0.45"/>
<rect x="49.49" y="174.12" width="3.76" height="7.48" fill="#d8d8d8" stroke="#222" stroke-width="0.45"/>
<rect x="53.25" y="172.88" width="3.76" height="8.72" fill="#6e6e6e" stroke="#222" stroke-width="0.45"/>
<rect x="57.01" y="172.88" width="3.76" height="8.72" fill="#000000" stroke="#222" stroke-width="0.45"/>
<text x="53.25" y="189.90" font-size="5.3" text-anchor="middle" font-weight="bold" fill="#000" stroke="#000" stroke-width="0.15" >10</text>
<rect x="65.13" y="179.11" width="3.76" height="2.49" fill="#ffffff" stroke="#222" stroke-width="0.45"/>
<rect x="68.89" y="173.50" width="3.76" height="8.10" fill="#d8d8d8" stroke="#222" stroke-width="0.45"/>
<rect x="72.65" y="169.45" width="3.76" height="12.15" fill="#6e6e6e" stroke="#222" stroke-width="0.45"/>
<rect x="76.41" y="169.45" width="3.76" height="12.15" fill="#000000" stroke="#222" stroke-width="0.45"/>
<text x="72.65" y="189.90" font-size="5.3" text-anchor="middle" font-weight="bold" fill="#000" stroke="#000" stroke-width="0.15" >100</text>
<rect x="84.53" y="178.17" width="3.76" height="3.43" fill="#ffffff" stroke="#222" stroke-width="0.45"/>
<rect x="88.29" y="166.03" width="3.76" height="15.57" fill="#d8d8d8" stroke="#222" stroke-width="0.45"/>
<rect x="92.05" y="160.11" width="3.76" height="21.49" fill="#6e6e6e" stroke="#222" stroke-width="0.45"/>
<rect x="95.81" y="157.93" width="3.76" height="23.67" fill="#000000" stroke="#222" stroke-width="0.45"/>
<text x="92.05" y="189.90" font-size="5.3" text-anchor="middle" font-weight="bold" fill="#000" stroke="#000" stroke-width="0.15" >200</text>
<rect x="103.93" y="175.99" width="3.76" height="5.61" fill="#ffffff" stroke="#222" stroke-width="0.45"/>
<rect x="107.69" y="155.43" width="3.76" height="26.17" fill="#d8d8d8" stroke="#222" stroke-width="0.45"/>
<rect x="111.45" y="152.32" width="3.76" height="29.28" fill="#6e6e6e" stroke="#222" stroke-width="0.45"/>
<line x1="113.33" y1="150.45" x2="113.33" y2="152.32" stroke="#444" stroke-width="0.55"/>
<line x1="112.23" y1="150.45" x2="114.43" y2="150.45" stroke="#333" stroke-width="0.6"/>
<rect x="115.21" y="149.52" width="3.76" height="32.08" fill="#000000" stroke="#222" stroke-width="0.45"/>
<text x="111.45" y="189.90" font-size="5.3" text-anchor="middle" font-weight="bold" fill="#000" stroke="#000" stroke-width="0.15" >300</text>
<text x="70.00" y="117.20" font-size="7.5" text-anchor="middle" font-weight="bold" fill="#000" stroke="#000" stroke-width="0.15" >MHH-cALL4</text>
<text x="71.00" y="198.40" font-size="6.05" text-anchor="middle" font-weight="bold" fill="#000" stroke="#000" stroke-width="0.15" >Dexamethasone (µM)</text>
<text x="6.80" y="150.45" font-size="6.0" text-anchor="middle" font-weight="bold" fill="#000" stroke="#000" stroke-width="0.15" transform="rotate(-90 6.80 150.45)" dominant-baseline="central">cell death (%)</text>
<rect x="28.40" y="120.40" width="2.2" height="2.2" fill="#ffffff" stroke="#333" stroke-width="0.8"/>
<text x="31.80" y="123.70" font-size="5.0" text-anchor="start" font-weight="bold" fill="#000" stroke="#000" stroke-width="0.15" transform="translate(31.80 0) scale(1.13 1) translate(-31.80 0)">Ctrl</text>
<rect x="28.40" y="127.40" width="2.2" height="2.2" fill="#d8d8d8" stroke="#333" stroke-width="0.8"/>
<text x="31.80" y="130.10" font-size="5.0" text-anchor="start" font-weight="bold" fill="#000" stroke="#000" stroke-width="0.15" transform="translate(31.80 0) scale(1.13 1) translate(-31.80 0)">0.6 µM BV6</text>
<rect x="28.40" y="133.40" width="2.2" height="2.2" fill="#7a7a7a" stroke="#333" stroke-width="0.8"/>
<text x="31.80" y="136.50" font-size="5.0" text-anchor="start" font-weight="bold" fill="#000" stroke="#000" stroke-width="0.15" transform="translate(31.80 0) scale(1.13 1) translate(-31.80 0)">0.7 µM BV6</text>
<rect x="28.40" y="140.40" width="2.2" height="2.2" fill="#000000" stroke="#333" stroke-width="0.8"/>
<text x="31.80" y="142.90" font-size="5.0" text-anchor="start" font-weight="bold" fill="#000" stroke="#000" stroke-width="0.15" transform="translate(31.80 0) scale(1.13 1) translate(-31.80 0)">0.8 µM BV6</text>
<line x1="157.30" y1="119.00" x2="157.30" y2="181.60" stroke="#8a8a8a" stroke-width="0.6"/>
<line x1="155.80" y1="181.60" x2="252.50" y2="181.60" stroke="#8a8a8a" stroke-width="0.6"/>
<line x1="155.80" y1="181.60" x2="157.30" y2="181.60" stroke="#8a8a8a" stroke-width="0.5"/>
<text x="152.70" y="183.40" font-size="5.0" text-anchor="end" font-weight="bold" fill="#000" stroke="#000" stroke-width="0.15" >0</text>
<line x1="155.80" y1="175.37" x2="157.30" y2="175.37" stroke="#8a8a8a" stroke-width="0.5"/>
<text x="152.70" y="177.17" font-size="5.0" text-anchor="end" font-weight="bold" fill="#000" stroke="#000" stroke-width="0.15" >10</text>
<line x1="155.80" y1="169.14" x2="157.30" y2="169.14" stroke="#8a8a8a" stroke-width="0.5"/>
<text x="152.70" y="170.94" font-size="5.0" text-anchor="end" font-weight="bold" fill="#000" stroke="#000" stroke-width="0.15" >20</text>
<line x1="155.80" y1="162.91" x2="157.30" y2="162.91" stroke="#8a8a8a" stroke-width="0.5"/>
<text x="152.70" y="164.71" font-size="5.0" text-anchor="end" font-weight="bold" fill="#000" stroke="#000" stroke-width="0.15" >30</text>
<line x1="155.80" y1="156.68" x2="157.30" y2="156.68" stroke="#8a8a8a" stroke-width="0.5"/>
<text x="152.70" y="158.48" font-size="5.0" text-anchor="end" font-weight="bold" fill="#000" stroke="#000" stroke-width="0.15" >40</text>
<line x1="155.80" y1="150.45" x2="157.30" y2="150.45" stroke="#8a8a8a" stroke-width="0.5"/>
<text x="152.70" y="152.25" font-size="5.0" text-anchor="end" font-weight="bold" fill="#000" stroke="#000" stroke-width="0.15" >50</text>
<line x1="155.80" y1="144.22" x2="157.30" y2="144.22" stroke="#8a8a8a" stroke-width="0.5"/>
<text x="152.70" y="146.02" font-size="5.0" text-anchor="end" font-weight="bold" fill="#000" stroke="#000" stroke-width="0.15" >60</text>
<line x1="155.80" y1="137.99" x2="157.30" y2="137.99" stroke="#8a8a8a" stroke-width="0.5"/>
<text x="152.70" y="139.79" font-size="5.0" text-anchor="end" font-weight="bold" fill="#000" stroke="#000" stroke-width="0.15" >70</text>
<line x1="155.80" y1="131.76" x2="157.30" y2="131.76" stroke="#8a8a8a" stroke-width="0.5"/>
<text x="152.70" y="133.56" font-size="5.0" text-anchor="end" font-weight="bold" fill="#000" stroke="#000" stroke-width="0.15" >80</text>
<line x1="155.80" y1="125.53" x2="157.30" y2="125.53" stroke="#8a8a8a" stroke-width="0.5"/>
<text x="152.70" y="127.33" font-size="5.0" text-anchor="end" font-weight="bold" fill="#000" stroke="#000" stroke-width="0.15" >90</text>
<line x1="155.80" y1="119.30" x2="157.30" y2="119.30" stroke="#8a8a8a" stroke-width="0.5"/>
<text x="152.70" y="121.10" font-size="5.0" text-anchor="end" font-weight="bold" fill="#000" stroke="#000" stroke-width="0.15" >100</text>
<line x1="157.30" y1="181.60" x2="157.30" y2="182.90" stroke="#8a8a8a" stroke-width="0.5"/>
<line x1="176.28" y1="181.60" x2="176.28" y2="182.90" stroke="#8a8a8a" stroke-width="0.5"/>
<line x1="195.32" y1="181.60" x2="195.32" y2="182.90" stroke="#8a8a8a" stroke-width="0.5"/>
<line x1="214.38" y1="181.60" x2="214.38" y2="182.90" stroke="#8a8a8a" stroke-width="0.5"/>
<line x1="233.43" y1="181.60" x2="233.43" y2="182.90" stroke="#8a8a8a" stroke-width="0.5"/>
<line x1="252.50" y1="181.60" x2="252.50" y2="182.90" stroke="#8a8a8a" stroke-width="0.5"/>
<rect x="159.37" y="180.35" width="3.69" height="1.25" fill="#ffffff" stroke="#222" stroke-width="0.45"/>
<rect x="163.06" y="176.93" width="3.69" height="4.67" fill="#d8d8d8" stroke="#222" stroke-width="0.45"/>
<rect x="166.75" y="176.30" width="3.69" height="5.30" fill="#6e6e6e" stroke="#222" stroke-width="0.45"/>
<rect x="170.44" y="174.75" width="3.69" height="6.85" fill="#000000" stroke="#222" stroke-width="0.45"/>
<text x="166.75" y="189.90" font-size="5.3" text-anchor="middle" font-weight="bold" fill="#000" stroke="#000" stroke-width="0.15" >0</text>
<rect x="178.42" y="180.35" width="3.69" height="1.25" fill="#ffffff" stroke="#222" stroke-width="0.45"/>
<rect x="182.11" y="178.48" width="3.69" height="3.12" fill="#d8d8d8" stroke="#222" stroke-width="0.45"/>
<rect x="185.80" y="177.55" width="3.69" height="4.05" fill="#6e6e6e" stroke="#222" stroke-width="0.45"/>
<rect x="189.49" y="174.12" width="3.69" height="7.48" fill="#000000" stroke="#222" stroke-width="0.45"/>
<text x="185.80" y="189.90" font-size="5.3" text-anchor="middle" font-weight="bold" fill="#000" stroke="#000" stroke-width="0.15" >10</text>
<rect x="197.47" y="179.86" width="3.69" height="1.74" fill="#ffffff" stroke="#222" stroke-width="0.45"/>
<rect x="201.16" y="175.37" width="3.69" height="6.23" fill="#d8d8d8" stroke="#222" stroke-width="0.45"/>
<rect x="204.85" y="174.12" width="3.69" height="7.48" fill="#6e6e6e" stroke="#222" stroke-width="0.45"/>
<rect x="208.54" y="162.91" width="3.69" height="18.69" fill="#000000" stroke="#222" stroke-width="0.45"/>
<text x="204.85" y="189.90" font-size="5.3" text-anchor="middle" font-weight="bold" fill="#000" stroke="#000" stroke-width="0.15" >100</text>
<rect x="216.52" y="179.42" width="3.69" height="2.18" fill="#ffffff" stroke="#222" stroke-width="0.45"/>
<rect x="220.21" y="167.89" width="3.69" height="13.71" fill="#d8d8d8" stroke="#222" stroke-width="0.45"/>
<rect x="223.90" y="164.16" width="3.69" height="17.44" fill="#6e6e6e" stroke="#222" stroke-width="0.45"/>
<rect x="227.59" y="146.71" width="3.69" height="34.89" fill="#000000" stroke="#222" stroke-width="0.45"/>
<text x="223.90" y="189.90" font-size="5.3" text-anchor="middle" font-weight="bold" fill="#000" stroke="#000" stroke-width="0.15" >200</text>
<rect x="235.57" y="177.86" width="3.69" height="3.74" fill="#ffffff" stroke="#222" stroke-width="0.45"/>
<rect x="239.26" y="159.79" width="3.69" height="21.80" fill="#d8d8d8" stroke="#222" stroke-width="0.45"/>
<line x1="241.10" y1="157.93" x2="241.10" y2="159.79" stroke="#444" stroke-width="0.55"/>
<line x1="240.00" y1="157.93" x2="242.20" y2="157.93" stroke="#333" stroke-width="0.6"/>
<rect x="242.95" y="153.56" width="3.69" height="28.04" fill="#6e6e6e" stroke="#222" stroke-width="0.45"/>
<line x1="244.80" y1="151.70" x2="244.80" y2="153.56" stroke="#444" stroke-width="0.55"/>
<line x1="243.70" y1="151.70" x2="245.90" y2="151.70" stroke="#333" stroke-width="0.6"/>
<rect x="246.64" y="136.74" width="3.69" height="44.86" fill="#000000" stroke="#222" stroke-width="0.45"/>
<text x="242.95" y="189.90" font-size="5.3" text-anchor="middle" font-weight="bold" fill="#000" stroke="#000" stroke-width="0.15" >300</text>
<text x="203.10" y="117.90" font-size="7.5" text-anchor="middle" font-weight="bold" fill="#000" stroke="#000" stroke-width="0.15" >Tanoue</text>
<text x="205.00" y="198.40" font-size="6.05" text-anchor="middle" font-weight="bold" fill="#000" stroke="#000" stroke-width="0.15" >Dexamethasone (µM)</text>
<text x="139.30" y="150.45" font-size="6.0" text-anchor="middle" font-weight="bold" fill="#000" stroke="#000" stroke-width="0.15" transform="rotate(-90 139.30 150.45)" dominant-baseline="central">cell death (%)</text>
<rect x="160.40" y="121.40" width="2.2" height="2.2" fill="#ffffff" stroke="#333" stroke-width="0.8"/>
<text x="164.30" y="124.70" font-size="5.0" text-anchor="start" font-weight="bold" fill="#000" stroke="#000" stroke-width="0.15" transform="translate(164.30 0) scale(1.13 1) translate(-164.30 0)">Ctrl</text>
<rect x="160.40" y="128.40" width="2.2" height="2.2" fill="#d8d8d8" stroke="#333" stroke-width="0.8"/>
<text x="164.30" y="131.10" font-size="5.0" text-anchor="start" font-weight="bold" fill="#000" stroke="#000" stroke-width="0.15" transform="translate(164.30 0) scale(1.13 1) translate(-164.30 0)">2 µM BV6</text>
<rect x="160.40" y="134.40" width="2.2" height="2.2" fill="#7a7a7a" stroke="#333" stroke-width="0.8"/>
<text x="164.30" y="137.50" font-size="5.0" text-anchor="start" font-weight="bold" fill="#000" stroke="#000" stroke-width="0.15" transform="translate(164.30 0) scale(1.13 1) translate(-164.30 0)">2.3 µM BV6</text>
<rect x="160.40" y="141.40" width="2.2" height="2.2" fill="#000000" stroke="#333" stroke-width="0.8"/>
<text x="164.30" y="143.90" font-size="5.0" text-anchor="start" font-weight="bold" fill="#000" stroke="#000" stroke-width="0.15" transform="translate(164.30 0) scale(1.13 1) translate(-164.30 0)">2.9 µM BV6</text>
<line x1="289.00" y1="119.00" x2="289.00" y2="181.60" stroke="#8a8a8a" stroke-width="0.6"/>
<line x1="287.50" y1="181.60" x2="384.00" y2="181.60" stroke="#8a8a8a" stroke-width="0.6"/>
<line x1="287.50" y1="181.60" x2="289.00" y2="181.60" stroke="#8a8a8a" stroke-width="0.5"/>
<text x="284.40" y="183.40" font-size="5.0" text-anchor="end" font-weight="bold" fill="#000" stroke="#000" stroke-width="0.15" >0</text>
<line x1="287.50" y1="175.37" x2="289.00" y2="175.37" stroke="#8a8a8a" stroke-width="0.5"/>
<text x="284.40" y="177.17" font-size="5.0" text-anchor="end" font-weight="bold" fill="#000" stroke="#000" stroke-width="0.15" >10</text>
<line x1="287.50" y1="169.14" x2="289.00" y2="169.14" stroke="#8a8a8a" stroke-width="0.5"/>
<text x="284.40" y="170.94" font-size="5.0" text-anchor="end" font-weight="bold" fill="#000" stroke="#000" stroke-width="0.15" >20</text>
<line x1="287.50" y1="162.91" x2="289.00" y2="162.91" stroke="#8a8a8a" stroke-width="0.5"/>
<text x="284.40" y="164.71" font-size="5.0" text-anchor="end" font-weight="bold" fill="#000" stroke="#000" stroke-width="0.15" >30</text>
<line x1="287.50" y1="156.68" x2="289.00" y2="156.68" stroke="#8a8a8a" stroke-width="0.5"/>
<text x="284.40" y="158.48" font-size="5.0" text-anchor="end" font-weight="bold" fill="#000" stroke="#000" stroke-width="0.15" >40</text>
<line x1="287.50" y1="150.45" x2="289.00" y2="150.45" stroke="#8a8a8a" stroke-width="0.5"/>
<text x="284.40" y="152.25" font-size="5.0" text-anchor="end" font-weight="bold" fill="#000" stroke="#000" stroke-width="0.15" >50</text>
<line x1="287.50" y1="144.22" x2="289.00" y2="144.22" stroke="#8a8a8a" stroke-width="0.5"/>
<text x="284.40" y="146.02" font-size="5.0" text-anchor="end" font-weight="bold" fill="#000" stroke="#000" stroke-width="0.15" >60</text>
<line x1="287.50" y1="137.99" x2="289.00" y2="137.99" stroke="#8a8a8a" stroke-width="0.5"/>
<text x="284.40" y="139.79" font-size="5.0" text-anchor="end" font-weight="bold" fill="#000" stroke="#000" stroke-width="0.15" >70</text>
<line x1="287.50" y1="131.76" x2="289.00" y2="131.76" stroke="#8a8a8a" stroke-width="0.5"/>
<text x="284.40" y="133.56" font-size="5.0" text-anchor="end" font-weight="bold" fill="#000" stroke="#000" stroke-width="0.15" >80</text>
<line x1="287.50" y1="125.53" x2="289.00" y2="125.53" stroke="#8a8a8a" stroke-width="0.5"/>
<text x="284.40" y="127.33" font-size="5.0" text-anchor="end" font-weight="bold" fill="#000" stroke="#000" stroke-width="0.15" >90</text>
<line x1="287.50" y1="119.30" x2="289.00" y2="119.30" stroke="#8a8a8a" stroke-width="0.5"/>
<text x="284.40" y="121.10" font-size="5.0" text-anchor="end" font-weight="bold" fill="#000" stroke="#000" stroke-width="0.15" >100</text>
<line x1="289.00" y1="181.60" x2="289.00" y2="182.90" stroke="#8a8a8a" stroke-width="0.5"/>
<line x1="307.80" y1="181.60" x2="307.80" y2="182.90" stroke="#8a8a8a" stroke-width="0.5"/>
<line x1="327.00" y1="181.60" x2="327.00" y2="182.90" stroke="#8a8a8a" stroke-width="0.5"/>
<line x1="346.20" y1="181.60" x2="346.20" y2="182.90" stroke="#8a8a8a" stroke-width="0.5"/>
<line x1="365.40" y1="181.60" x2="365.40" y2="182.90" stroke="#8a8a8a" stroke-width="0.5"/>
<line x1="384.00" y1="181.60" x2="384.00" y2="182.90" stroke="#8a8a8a" stroke-width="0.5"/>
<rect x="290.76" y="179.42" width="3.72" height="2.18" fill="#ffffff" stroke="#222" stroke-width="0.45"/>
<rect x="294.48" y="175.06" width="3.72" height="6.54" fill="#d8d8d8" stroke="#222" stroke-width="0.45"/>
<rect x="298.20" y="170.07" width="3.72" height="11.53" fill="#6e6e6e" stroke="#222" stroke-width="0.45"/>
<rect x="301.92" y="163.84" width="3.72" height="17.76" fill="#000000" stroke="#222" stroke-width="0.45"/>
<line x1="303.78" y1="160.42" x2="303.78" y2="163.84" stroke="#444" stroke-width="0.55"/>
<line x1="302.68" y1="160.42" x2="304.88" y2="160.42" stroke="#333" stroke-width="0.6"/>
<text x="298.20" y="189.90" font-size="5.3" text-anchor="middle" font-weight="bold" fill="#000" stroke="#000" stroke-width="0.15" >0</text>
<rect x="309.96" y="177.55" width="3.72" height="4.05" fill="#ffffff" stroke="#222" stroke-width="0.45"/>
<line x1="311.82" y1="172.88" x2="311.82" y2="177.55" stroke="#444" stroke-width="0.55"/>
<line x1="310.72" y1="172.88" x2="312.92" y2="172.88" stroke="#333" stroke-width="0.6"/>
<rect x="313.68" y="170.70" width="3.72" height="10.90" fill="#d8d8d8" stroke="#222" stroke-width="0.45"/>
<line x1="315.54" y1="166.65" x2="315.54" y2="170.70" stroke="#444" stroke-width="0.55"/>
<line x1="314.44" y1="166.65" x2="316.64" y2="166.65" stroke="#333" stroke-width="0.6"/>
<rect x="317.40" y="168.52" width="3.72" height="13.08" fill="#6e6e6e" stroke="#222" stroke-width="0.45"/>
<rect x="321.12" y="157.93" width="3.72" height="23.67" fill="#000000" stroke="#222" stroke-width="0.45"/>
<text x="317.40" y="189.90" font-size="5.3" text-anchor="middle" font-weight="bold" fill="#000" stroke="#000" stroke-width="0.15" >10</text>
<rect x="329.16" y="180.04" width="3.72" height="1.56" fill="#ffffff" stroke="#222" stroke-width="0.45"/>
<rect x="332.88" y="168.52" width="3.72" height="13.08" fill="#d8d8d8" stroke="#222" stroke-width="0.45"/>
<rect x="336.60" y="166.34" width="3.72" height="15.26" fill="#6e6e6e" stroke="#222" stroke-width="0.45"/>
<rect x="340.32" y="155.12" width="3.72" height="26.48" fill="#000000" stroke="#222" stroke-width="0.45"/>
<line x1="342.18" y1="152.32" x2="342.18" y2="155.12" stroke="#444" stroke-width="0.55"/>
<line x1="341.08" y1="152.32" x2="343.28" y2="152.32" stroke="#333" stroke-width="0.6"/>
<text x="336.60" y="189.90" font-size="5.3" text-anchor="middle" font-weight="bold" fill="#000" stroke="#000" stroke-width="0.15" >100</text>
<rect x="348.36" y="180.04" width="3.72" height="1.56" fill="#ffffff" stroke="#222" stroke-width="0.45"/>
<rect x="352.08" y="164.47" width="3.72" height="17.13" fill="#d8d8d8" stroke="#222" stroke-width="0.45"/>
<rect x="355.80" y="163.22" width="3.72" height="18.38" fill="#6e6e6e" stroke="#222" stroke-width="0.45"/>
<rect x="359.52" y="150.45" width="3.72" height="31.15" fill="#000000" stroke="#222" stroke-width="0.45"/>
<text x="355.80" y="189.90" font-size="5.3" text-anchor="middle" font-weight="bold" fill="#000" stroke="#000" stroke-width="0.15" >200</text>
<rect x="367.56" y="179.11" width="3.72" height="2.49" fill="#ffffff" stroke="#222" stroke-width="0.45"/>
<rect x="371.28" y="159.79" width="3.72" height="21.80" fill="#d8d8d8" stroke="#222" stroke-width="0.45"/>
<rect x="375.00" y="158.55" width="3.72" height="23.05" fill="#6e6e6e" stroke="#222" stroke-width="0.45"/>
<line x1="376.86" y1="154.19" x2="376.86" y2="158.55" stroke="#444" stroke-width="0.55"/>
<line x1="375.76" y1="154.19" x2="377.96" y2="154.19" stroke="#333" stroke-width="0.6"/>
<rect x="378.72" y="145.47" width="3.72" height="36.13" fill="#000000" stroke="#222" stroke-width="0.45"/>
<text x="375.00" y="189.90" font-size="5.3" text-anchor="middle" font-weight="bold" fill="#000" stroke="#000" stroke-width="0.15" >300</text>
<text x="339.60" y="118.60" font-size="8.4" text-anchor="middle" font-weight="bold" fill="#000" stroke="#000" stroke-width="0.15" transform="translate(339.60 0) scale(0.92 1) translate(-339.60 0)">Reh</text>
<text x="336.00" y="198.40" font-size="6.05" text-anchor="middle" font-weight="bold" fill="#000" stroke="#000" stroke-width="0.15" >Dexamethasone (µM)</text>
<text x="271.00" y="150.45" font-size="6.0" text-anchor="middle" font-weight="bold" fill="#000" stroke="#000" stroke-width="0.15" transform="rotate(-90 271.00 150.45)" dominant-baseline="central">cell death (%)</text>
<rect x="292.40" y="121.40" width="2.2" height="2.2" fill="#ffffff" stroke="#333" stroke-width="0.8"/>
<text x="296.00" y="124.30" font-size="5.0" text-anchor="start" font-weight="bold" fill="#000" stroke="#000" stroke-width="0.15" transform="translate(296.00 0) scale(1.13 1) translate(-296.00 0)">Ctrl</text>
<rect x="292.40" y="127.40" width="2.2" height="2.2" fill="#d8d8d8" stroke="#333" stroke-width="0.8"/>
<text x="296.00" y="130.70" font-size="5.0" text-anchor="start" font-weight="bold" fill="#000" stroke="#000" stroke-width="0.15" transform="translate(296.00 0) scale(1.13 1) translate(-296.00 0)">0.08 µM BV6</text>
<rect x="292.40" y="134.40" width="2.2" height="2.2" fill="#7a7a7a" stroke="#333" stroke-width="0.8"/>
<text x="296.00" y="137.10" font-size="5.0" text-anchor="start" font-weight="bold" fill="#000" stroke="#000" stroke-width="0.15" transform="translate(296.00 0) scale(1.13 1) translate(-296.00 0)">0.1 µM BV6</text>
<rect x="292.40" y="140.40" width="2.2" height="2.2" fill="#000000" stroke="#333" stroke-width="0.8"/>
<text x="296.00" y="143.50" font-size="5.0" text-anchor="start" font-weight="bold" fill="#000" stroke="#000" stroke-width="0.15" transform="translate(296.00 0) scale(1.13 1) translate(-296.00 0)">0.3 µM BV6</text>
<line x1="25.20" y1="220.60" x2="25.20" y2="283.70" stroke="#8a8a8a" stroke-width="0.6"/>
<line x1="23.70" y1="283.70" x2="121.00" y2="283.70" stroke="#8a8a8a" stroke-width="0.6"/>
<line x1="23.70" y1="283.70" x2="25.20" y2="283.70" stroke="#8a8a8a" stroke-width="0.5"/>
<text x="19.80" y="285.50" font-size="5.0" text-anchor="end" font-weight="bold" fill="#000" stroke="#000" stroke-width="0.15" >0</text>
<line x1="23.70" y1="277.42" x2="25.20" y2="277.42" stroke="#8a8a8a" stroke-width="0.5"/>
<text x="19.80" y="279.22" font-size="5.0" text-anchor="end" font-weight="bold" fill="#000" stroke="#000" stroke-width="0.15" >10</text>
<line x1="23.70" y1="271.14" x2="25.20" y2="271.14" stroke="#8a8a8a" stroke-width="0.5"/>
<text x="19.80" y="272.94" font-size="5.0" text-anchor="end" font-weight="bold" fill="#000" stroke="#000" stroke-width="0.15" >20</text>
<line x1="23.70" y1="264.86" x2="25.20" y2="264.86" stroke="#8a8a8a" stroke-width="0.5"/>
<text x="19.80" y="266.66" font-size="5.0" text-anchor="end" font-weight="bold" fill="#000" stroke="#000" stroke-width="0.15" >30</text>
<line x1="23.70" y1="258.58" x2="25.20" y2="258.58" stroke="#8a8a8a" stroke-width="0.5"/>
<text x="19.80" y="260.38" font-size="5.0" text-anchor="end" font-weight="bold" fill="#000" stroke="#000" stroke-width="0.15" >40</text>
<line x1="23.70" y1="252.30" x2="25.20" y2="252.30" stroke="#8a8a8a" stroke-width="0.5"/>
<text x="19.80" y="254.10" font-size="5.0" text-anchor="end" font-weight="bold" fill="#000" stroke="#000" stroke-width="0.15" >50</text>
<line x1="23.70" y1="246.02" x2="25.20" y2="246.02" stroke="#8a8a8a" stroke-width="0.5"/>
<text x="19.80" y="247.82" font-size="5.0" text-anchor="end" font-weight="bold" fill="#000" stroke="#000" stroke-width="0.15" >60</text>
<line x1="23.70" y1="239.74" x2="25.20" y2="239.74" stroke="#8a8a8a" stroke-width="0.5"/>
<text x="19.80" y="241.54" font-size="5.0" text-anchor="end" font-weight="bold" fill="#000" stroke="#000" stroke-width="0.15" >70</text>
<line x1="23.70" y1="233.46" x2="25.20" y2="233.46" stroke="#8a8a8a" stroke-width="0.5"/>
<text x="19.80" y="235.26" font-size="5.0" text-anchor="end" font-weight="bold" fill="#000" stroke="#000" stroke-width="0.15" >80</text>
<line x1="23.70" y1="227.18" x2="25.20" y2="227.18" stroke="#8a8a8a" stroke-width="0.5"/>
<text x="19.80" y="228.98" font-size="5.0" text-anchor="end" font-weight="bold" fill="#000" stroke="#000" stroke-width="0.15" >90</text>
<line x1="23.70" y1="220.90" x2="25.20" y2="220.90" stroke="#8a8a8a" stroke-width="0.5"/>
<text x="19.80" y="222.70" font-size="5.0" text-anchor="end" font-weight="bold" fill="#000" stroke="#000" stroke-width="0.15" >100</text>
<line x1="25.20" y1="283.70" x2="25.20" y2="285.00" stroke="#8a8a8a" stroke-width="0.5"/>
<line x1="44.10" y1="283.70" x2="44.10" y2="285.00" stroke="#8a8a8a" stroke-width="0.5"/>
<line x1="63.50" y1="283.70" x2="63.50" y2="285.00" stroke="#8a8a8a" stroke-width="0.5"/>
<line x1="82.90" y1="283.70" x2="82.90" y2="285.00" stroke="#8a8a8a" stroke-width="0.5"/>
<line x1="102.30" y1="283.70" x2="102.30" y2="285.00" stroke="#8a8a8a" stroke-width="0.5"/>
<line x1="121.00" y1="283.70" x2="121.00" y2="285.00" stroke="#8a8a8a" stroke-width="0.5"/>
<rect x="26.88" y="278.05" width="3.76" height="5.65" fill="#ffffff" stroke="#222" stroke-width="0.45"/>
<rect x="30.64" y="273.65" width="3.76" height="10.05" fill="#d8d8d8" stroke="#222" stroke-width="0.45"/>
<rect x="34.40" y="271.77" width="3.76" height="11.93" fill="#6e6e6e" stroke="#222" stroke-width="0.45"/>
<line x1="36.28" y1="269.88" x2="36.28" y2="271.77" stroke="#444" stroke-width="0.55"/>
<line x1="35.18" y1="269.88" x2="37.38" y2="269.88" stroke="#333" stroke-width="0.6"/>
<rect x="38.16" y="268.00" width="3.76" height="15.70" fill="#000000" stroke="#222" stroke-width="0.45"/>
<line x1="40.04" y1="265.49" x2="40.04" y2="268.00" stroke="#444" stroke-width="0.55"/>
<line x1="38.94" y1="265.49" x2="41.14" y2="265.49" stroke="#333" stroke-width="0.6"/>
<text x="34.40" y="292.00" font-size="5.3" text-anchor="middle" font-weight="bold" fill="#000" stroke="#000" stroke-width="0.15" >0</text>
<rect x="46.28" y="277.42" width="3.76" height="6.28" fill="#ffffff" stroke="#222" stroke-width="0.45"/>
<rect x="50.04" y="274.91" width="3.76" height="8.79" fill="#d8d8d8" stroke="#222" stroke-width="0.45"/>
<rect x="53.80" y="271.14" width="3.76" height="12.56" fill="#6e6e6e" stroke="#222" stroke-width="0.45"/>
<rect x="57.56" y="269.26" width="3.76" height="14.44" fill="#000000" stroke="#222" stroke-width="0.45"/>
<text x="53.80" y="292.00" font-size="5.3" text-anchor="middle" font-weight="bold" fill="#000" stroke="#000" stroke-width="0.15" >10</text>
<rect x="65.68" y="275.54" width="3.76" height="8.16" fill="#ffffff" stroke="#222" stroke-width="0.45"/>
<rect x="69.44" y="270.51" width="3.76" height="13.19" fill="#d8d8d8" stroke="#222" stroke-width="0.45"/>
<rect x="73.20" y="264.86" width="3.76" height="18.84" fill="#6e6e6e" stroke="#222" stroke-width="0.45"/>
<rect x="76.96" y="258.58" width="3.76" height="25.12" fill="#000000" stroke="#222" stroke-width="0.45"/>
<text x="73.20" y="292.00" font-size="5.3" text-anchor="middle" font-weight="bold" fill="#000" stroke="#000" stroke-width="0.15" >100</text>
<rect x="85.08" y="272.40" width="3.76" height="11.30" fill="#ffffff" stroke="#222" stroke-width="0.45"/>
<rect x="88.84" y="266.12" width="3.76" height="17.58" fill="#d8d8d8" stroke="#222" stroke-width="0.45"/>
<rect x="92.60" y="255.44" width="3.76" height="28.26" fill="#6e6e6e" stroke="#222" stroke-width="0.45"/>
<line x1="94.48" y1="252.30" x2="94.48" y2="255.44" stroke="#444" stroke-width="0.55"/>
<line x1="93.38" y1="252.30" x2="95.58" y2="252.30" stroke="#333" stroke-width="0.6"/>
<rect x="96.36" y="237.86" width="3.76" height="45.84" fill="#000000" stroke="#222" stroke-width="0.45"/>
<line x1="98.24" y1="235.34" x2="98.24" y2="237.86" stroke="#444" stroke-width="0.55"/>
<line x1="97.14" y1="235.34" x2="99.34" y2="235.34" stroke="#333" stroke-width="0.6"/>
<text x="92.60" y="292.00" font-size="5.3" text-anchor="middle" font-weight="bold" fill="#000" stroke="#000" stroke-width="0.15" >200</text>
<rect x="104.48" y="267.37" width="3.76" height="16.33" fill="#ffffff" stroke="#222" stroke-width="0.45"/>
<line x1="106.36" y1="264.23" x2="106.36" y2="267.37" stroke="#444" stroke-width="0.55"/>
<line x1="105.26" y1="264.23" x2="107.46" y2="264.23" stroke="#333" stroke-width="0.6"/>
<rect x="108.24" y="257.95" width="3.76" height="25.75" fill="#d8d8d8" stroke="#222" stroke-width="0.45"/>
<rect x="112.00" y="242.25" width="3.76" height="41.45" fill="#6e6e6e" stroke="#222" stroke-width="0.45"/>
<line x1="113.88" y1="239.74" x2="113.88" y2="242.25" stroke="#444" stroke-width="0.55"/>
<line x1="112.78" y1="239.74" x2="114.98" y2="239.74" stroke="#333" stroke-width="0.6"/>
<rect x="115.76" y="231.58" width="3.76" height="52.12" fill="#000000" stroke="#222" stroke-width="0.45"/>
<text x="112.00" y="292.00" font-size="5.3" text-anchor="middle" font-weight="bold" fill="#000" stroke="#000" stroke-width="0.15" >300</text>
<text x="71.50" y="220.30" font-size="7.5" text-anchor="middle" font-weight="bold" fill="#000" stroke="#000" stroke-width="0.15" >Jurkat</text>
<text x="72.50" y="300.50" font-size="6.05" text-anchor="middle" font-weight="bold" fill="#000" stroke="#000" stroke-width="0.15" >Prednisolone (µM)</text>
<text x="7.20" y="252.30" font-size="6.0" text-anchor="middle" font-weight="bold" fill="#000" stroke="#000" stroke-width="0.15" transform="rotate(-90 7.20 252.30)" dominant-baseline="central">cell death (%)</text>
<rect x="28.40" y="224.40" width="2.2" height="2.2" fill="#ffffff" stroke="#333" stroke-width="0.8"/>
<text x="32.20" y="226.80" font-size="5.0" text-anchor="start" font-weight="bold" fill="#000" stroke="#000" stroke-width="0.15" transform="translate(32.20 0) scale(1.13 1) translate(-32.20 0)">Ctrl</text>
<rect x="28.40" y="230.40" width="2.2" height="2.2" fill="#d8d8d8" stroke="#333" stroke-width="0.8"/>
<text x="32.20" y="233.20" font-size="5.0" text-anchor="start" font-weight="bold" fill="#000" stroke="#000" stroke-width="0.15" transform="translate(32.20 0) scale(1.13 1) translate(-32.20 0)">3 µM BV6</text>
<rect x="28.40" y="236.40" width="2.2" height="2.2" fill="#7a7a7a" stroke="#333" stroke-width="0.8"/>
<text x="32.20" y="239.60" font-size="5.0" text-anchor="start" font-weight="bold" fill="#000" stroke="#000" stroke-width="0.15" transform="translate(32.20 0) scale(1.13 1) translate(-32.20 0)">5 µM BV6</text>
<rect x="28.40" y="243.40" width="2.2" height="2.2" fill="#000000" stroke="#333" stroke-width="0.8"/>
<text x="32.20" y="246.00" font-size="5.0" text-anchor="start" font-weight="bold" fill="#000" stroke="#000" stroke-width="0.15" transform="translate(32.20 0) scale(1.13 1) translate(-32.20 0)">7 µM BV6</text>
<line x1="158.20" y1="220.60" x2="158.20" y2="283.70" stroke="#8a8a8a" stroke-width="0.6"/>
<line x1="156.70" y1="283.70" x2="252.50" y2="283.70" stroke="#8a8a8a" stroke-width="0.6"/>
<line x1="156.70" y1="283.70" x2="158.20" y2="283.70" stroke="#8a8a8a" stroke-width="0.5"/>
<text x="153.60" y="285.50" font-size="5.0" text-anchor="end" font-weight="bold" fill="#000" stroke="#000" stroke-width="0.15" >0</text>
<line x1="156.70" y1="277.42" x2="158.20" y2="277.42" stroke="#8a8a8a" stroke-width="0.5"/>
<text x="153.60" y="279.22" font-size="5.0" text-anchor="end" font-weight="bold" fill="#000" stroke="#000" stroke-width="0.15" >10</text>
<line x1="156.70" y1="271.14" x2="158.20" y2="271.14" stroke="#8a8a8a" stroke-width="0.5"/>
<text x="153.60" y="272.94" font-size="5.0" text-anchor="end" font-weight="bold" fill="#000" stroke="#000" stroke-width="0.15" >20</text>
<line x1="156.70" y1="264.86" x2="158.20" y2="264.86" stroke="#8a8a8a" stroke-width="0.5"/>
<text x="153.60" y="266.66" font-size="5.0" text-anchor="end" font-weight="bold" fill="#000" stroke="#000" stroke-width="0.15" >30</text>
<line x1="156.70" y1="258.58" x2="158.20" y2="258.58" stroke="#8a8a8a" stroke-width="0.5"/>
<text x="153.60" y="260.38" font-size="5.0" text-anchor="end" font-weight="bold" fill="#000" stroke="#000" stroke-width="0.15" >40</text>
<line x1="156.70" y1="252.30" x2="158.20" y2="252.30" stroke="#8a8a8a" stroke-width="0.5"/>
<text x="153.60" y="254.10" font-size="5.0" text-anchor="end" font-weight="bold" fill="#000" stroke="#000" stroke-width="0.15" >50</text>
<line x1="156.70" y1="246.02" x2="158.20" y2="246.02" stroke="#8a8a8a" stroke-width="0.5"/>
<text x="153.60" y="247.82" font-size="5.0" text-anchor="end" font-weight="bold" fill="#000" stroke="#000" stroke-width="0.15" >60</text>
<line x1="156.70" y1="239.74" x2="158.20" y2="239.74" stroke="#8a8a8a" stroke-width="0.5"/>
<text x="153.60" y="241.54" font-size="5.0" text-anchor="end" font-weight="bold" fill="#000" stroke="#000" stroke-width="0.15" >70</text>
<line x1="156.70" y1="233.46" x2="158.20" y2="233.46" stroke="#8a8a8a" stroke-width="0.5"/>
<text x="153.60" y="235.26" font-size="5.0" text-anchor="end" font-weight="bold" fill="#000" stroke="#000" stroke-width="0.15" >80</text>
<line x1="156.70" y1="227.18" x2="158.20" y2="227.18" stroke="#8a8a8a" stroke-width="0.5"/>
<text x="153.60" y="228.98" font-size="5.0" text-anchor="end" font-weight="bold" fill="#000" stroke="#000" stroke-width="0.15" >90</text>
<line x1="156.70" y1="220.90" x2="158.20" y2="220.90" stroke="#8a8a8a" stroke-width="0.5"/>
<text x="153.60" y="222.70" font-size="5.0" text-anchor="end" font-weight="bold" fill="#000" stroke="#000" stroke-width="0.15" >100</text>
<line x1="158.20" y1="283.70" x2="158.20" y2="285.00" stroke="#8a8a8a" stroke-width="0.5"/>
<line x1="173.85" y1="283.70" x2="173.85" y2="285.00" stroke="#8a8a8a" stroke-width="0.5"/>
<line x1="189.55" y1="283.70" x2="189.55" y2="285.00" stroke="#8a8a8a" stroke-width="0.5"/>
<line x1="205.25" y1="283.70" x2="205.25" y2="285.00" stroke="#8a8a8a" stroke-width="0.5"/>
<line x1="220.95" y1="283.70" x2="220.95" y2="285.00" stroke="#8a8a8a" stroke-width="0.5"/>
<line x1="236.65" y1="283.70" x2="236.65" y2="285.00" stroke="#8a8a8a" stroke-width="0.5"/>
<line x1="252.50" y1="283.70" x2="252.50" y2="285.00" stroke="#8a8a8a" stroke-width="0.5"/>
<rect x="160.19" y="281.19" width="2.90" height="2.51" fill="#ffffff" stroke="#222" stroke-width="0.45"/>
<rect x="163.10" y="280.18" width="2.90" height="3.52" fill="#d8d8d8" stroke="#222" stroke-width="0.45"/>
<rect x="166.00" y="279.93" width="2.90" height="3.77" fill="#6e6e6e" stroke="#222" stroke-width="0.45"/>
<rect x="168.90" y="278.05" width="2.90" height="5.65" fill="#000000" stroke="#222" stroke-width="0.45"/>
<text x="166.00" y="292.00" font-size="5.3" text-anchor="middle" font-weight="bold" fill="#000" stroke="#000" stroke-width="0.15" >0</text>
<rect x="175.89" y="279.93" width="2.90" height="3.77" fill="#ffffff" stroke="#222" stroke-width="0.45"/>
<rect x="178.80" y="277.42" width="2.90" height="6.28" fill="#d8d8d8" stroke="#222" stroke-width="0.45"/>
<rect x="181.70" y="276.79" width="2.90" height="6.91" fill="#6e6e6e" stroke="#222" stroke-width="0.45"/>
<rect x="184.60" y="274.91" width="2.90" height="8.79" fill="#000000" stroke="#222" stroke-width="0.45"/>
<text x="181.70" y="292.00" font-size="5.3" text-anchor="middle" font-weight="bold" fill="#000" stroke="#000" stroke-width="0.15" >1</text>
<rect x="191.59" y="278.68" width="2.90" height="5.02" fill="#ffffff" stroke="#222" stroke-width="0.45"/>
<rect x="194.50" y="276.16" width="2.90" height="7.54" fill="#d8d8d8" stroke="#222" stroke-width="0.45"/>
<rect x="197.40" y="274.91" width="2.90" height="8.79" fill="#6e6e6e" stroke="#222" stroke-width="0.45"/>
<rect x="200.30" y="271.77" width="2.90" height="11.93" fill="#000000" stroke="#222" stroke-width="0.45"/>
<text x="197.40" y="292.00" font-size="5.3" text-anchor="middle" font-weight="bold" fill="#000" stroke="#000" stroke-width="0.15" >10</text>
<rect x="207.29" y="276.79" width="2.90" height="6.91" fill="#ffffff" stroke="#222" stroke-width="0.45"/>
<rect x="210.20" y="272.40" width="2.90" height="11.30" fill="#d8d8d8" stroke="#222" stroke-width="0.45"/>
<rect x="213.10" y="268.00" width="2.90" height="15.70" fill="#6e6e6e" stroke="#222" stroke-width="0.45"/>
<rect x="216.00" y="257.95" width="2.90" height="25.75" fill="#000000" stroke="#222" stroke-width="0.45"/>
<line x1="217.46" y1="255.44" x2="217.46" y2="257.95" stroke="#444" stroke-width="0.55"/>
<line x1="216.36" y1="255.44" x2="218.56" y2="255.44" stroke="#333" stroke-width="0.6"/>
<text x="213.10" y="292.00" font-size="5.3" text-anchor="middle" font-weight="bold" fill="#000" stroke="#000" stroke-width="0.15" >100</text>
<rect x="222.99" y="275.54" width="2.90" height="8.16" fill="#ffffff" stroke="#222" stroke-width="0.45"/>
<rect x="225.90" y="266.74" width="2.90" height="16.96" fill="#d8d8d8" stroke="#222" stroke-width="0.45"/>
<rect x="228.80" y="255.44" width="2.90" height="28.26" fill="#6e6e6e" stroke="#222" stroke-width="0.45"/>
<rect x="231.70" y="235.97" width="2.90" height="47.73" fill="#000000" stroke="#222" stroke-width="0.45"/>
<line x1="233.16" y1="234.09" x2="233.16" y2="235.97" stroke="#444" stroke-width="0.55"/>
<line x1="232.06" y1="234.09" x2="234.26" y2="234.09" stroke="#333" stroke-width="0.6"/>
<text x="228.80" y="292.00" font-size="5.3" text-anchor="middle" font-weight="bold" fill="#000" stroke="#000" stroke-width="0.15" >200</text>
<rect x="238.69" y="273.65" width="2.90" height="10.05" fill="#ffffff" stroke="#222" stroke-width="0.45"/>
<rect x="241.60" y="253.56" width="2.90" height="30.14" fill="#d8d8d8" stroke="#222" stroke-width="0.45"/>
<line x1="243.05" y1="250.42" x2="243.05" y2="253.56" stroke="#444" stroke-width="0.55"/>
<line x1="241.95" y1="250.42" x2="244.15" y2="250.42" stroke="#333" stroke-width="0.6"/>
<rect x="244.50" y="238.48" width="2.90" height="45.22" fill="#6e6e6e" stroke="#222" stroke-width="0.45"/>
<line x1="245.95" y1="235.34" x2="245.95" y2="238.48" stroke="#444" stroke-width="0.55"/>
<line x1="244.85" y1="235.34" x2="247.05" y2="235.34" stroke="#333" stroke-width="0.6"/>
<rect x="247.40" y="228.44" width="2.90" height="55.26" fill="#000000" stroke="#222" stroke-width="0.45"/>
<text x="244.50" y="292.00" font-size="5.3" text-anchor="middle" font-weight="bold" fill="#000" stroke="#000" stroke-width="0.15" >300</text>
<text x="203.00" y="220.30" font-size="7.5" text-anchor="middle" font-weight="bold" fill="#000" stroke="#000" stroke-width="0.15" >Molt-4</text>
<text x="205.75" y="300.50" font-size="6.05" text-anchor="middle" font-weight="bold" fill="#000" stroke="#000" stroke-width="0.15" >Prednisolone (µM)</text>
<text x="140.20" y="252.30" font-size="6.0" text-anchor="middle" font-weight="bold" fill="#000" stroke="#000" stroke-width="0.15" transform="rotate(-90 140.20 252.30)" dominant-baseline="central">cell death (%)</text>
<rect x="161.40" y="223.40" width="2.2" height="2.2" fill="#ffffff" stroke="#333" stroke-width="0.8"/>
<text x="165.20" y="225.90" font-size="5.0" text-anchor="start" font-weight="bold" fill="#000" stroke="#000" stroke-width="0.15" transform="translate(165.20 0) scale(1.13 1) translate(-165.20 0)">Ctrl</text>
<rect x="161.40" y="229.40" width="2.2" height="2.2" fill="#d8d8d8" stroke="#333" stroke-width="0.8"/>
<text x="165.20" y="232.30" font-size="5.0" text-anchor="start" font-weight="bold" fill="#000" stroke="#000" stroke-width="0.15" transform="translate(165.20 0) scale(1.13 1) translate(-165.20 0)">4 µM BV6</text>
<rect x="161.40" y="235.40" width="2.2" height="2.2" fill="#7a7a7a" stroke="#333" stroke-width="0.8"/>
<text x="165.20" y="238.70" font-size="5.0" text-anchor="start" font-weight="bold" fill="#000" stroke="#000" stroke-width="0.15" transform="translate(165.20 0) scale(1.13 1) translate(-165.20 0)">5 µM BV6</text>
<rect x="161.40" y="242.40" width="2.2" height="2.2" fill="#000000" stroke="#333" stroke-width="0.8"/>
<text x="165.20" y="245.10" font-size="5.0" text-anchor="start" font-weight="bold" fill="#000" stroke="#000" stroke-width="0.15" transform="translate(165.20 0) scale(1.13 1) translate(-165.20 0)">6 µM BV6</text>
<line x1="288.40" y1="220.60" x2="288.40" y2="283.70" stroke="#8a8a8a" stroke-width="0.6"/>
<line x1="286.90" y1="283.70" x2="385.00" y2="283.70" stroke="#8a8a8a" stroke-width="0.6"/>
<line x1="286.90" y1="283.70" x2="288.40" y2="283.70" stroke="#8a8a8a" stroke-width="0.5"/>
<text x="283.80" y="285.50" font-size="5.0" text-anchor="end" font-weight="bold" fill="#000" stroke="#000" stroke-width="0.15" >0</text>
<line x1="286.90" y1="277.42" x2="288.40" y2="277.42" stroke="#8a8a8a" stroke-width="0.5"/>
<text x="283.80" y="279.22" font-size="5.0" text-anchor="end" font-weight="bold" fill="#000" stroke="#000" stroke-width="0.15" >10</text>
<line x1="286.90" y1="271.14" x2="288.40" y2="271.14" stroke="#8a8a8a" stroke-width="0.5"/>
<text x="283.80" y="272.94" font-size="5.0" text-anchor="end" font-weight="bold" fill="#000" stroke="#000" stroke-width="0.15" >20</text>
<line x1="286.90" y1="264.86" x2="288.40" y2="264.86" stroke="#8a8a8a" stroke-width="0.5"/>
<text x="283.80" y="266.66" font-size="5.0" text-anchor="end" font-weight="bold" fill="#000" stroke="#000" stroke-width="0.15" >30</text>
<line x1="286.90" y1="258.58" x2="288.40" y2="258.58" stroke="#8a8a8a" stroke-width="0.5"/>
<text x="283.80" y="260.38" font-size="5.0" text-anchor="end" font-weight="bold" fill="#000" stroke="#000" stroke-width="0.15" >40</text>
<line x1="286.90" y1="252.30" x2="288.40" y2="252.30" stroke="#8a8a8a" stroke-width="0.5"/>
<text x="283.80" y="254.10" font-size="5.0" text-anchor="end" font-weight="bold" fill="#000" stroke="#000" stroke-width="0.15" >50</text>
<line x1="286.90" y1="246.02" x2="288.40" y2="246.02" stroke="#8a8a8a" stroke-width="0.5"/>
<text x="283.80" y="247.82" font-size="5.0" text-anchor="end" font-weight="bold" fill="#000" stroke="#000" stroke-width="0.15" >60</text>
<line x1="286.90" y1="239.74" x2="288.40" y2="239.74" stroke="#8a8a8a" stroke-width="0.5"/>
<text x="283.80" y="241.54" font-size="5.0" text-anchor="end" font-weight="bold" fill="#000" stroke="#000" stroke-width="0.15" >70</text>
<line x1="286.90" y1="233.46" x2="288.40" y2="233.46" stroke="#8a8a8a" stroke-width="0.5"/>
<text x="283.80" y="235.26" font-size="5.0" text-anchor="end" font-weight="bold" fill="#000" stroke="#000" stroke-width="0.15" >80</text>
<line x1="286.90" y1="227.18" x2="288.40" y2="227.18" stroke="#8a8a8a" stroke-width="0.5"/>
<text x="283.80" y="228.98" font-size="5.0" text-anchor="end" font-weight="bold" fill="#000" stroke="#000" stroke-width="0.15" >90</text>
<line x1="286.90" y1="220.90" x2="288.40" y2="220.90" stroke="#8a8a8a" stroke-width="0.5"/>
<text x="283.80" y="222.70" font-size="5.0" text-anchor="end" font-weight="bold" fill="#000" stroke="#000" stroke-width="0.15" >100</text>
<line x1="288.40" y1="283.70" x2="288.40" y2="285.00" stroke="#8a8a8a" stroke-width="0.5"/>
<line x1="313.18" y1="283.70" x2="313.18" y2="285.00" stroke="#8a8a8a" stroke-width="0.5"/>
<line x1="337.15" y1="283.70" x2="337.15" y2="285.00" stroke="#8a8a8a" stroke-width="0.5"/>
<line x1="361.12" y1="283.70" x2="361.12" y2="285.00" stroke="#8a8a8a" stroke-width="0.5"/>
<line x1="385.00" y1="283.70" x2="385.00" y2="285.00" stroke="#8a8a8a" stroke-width="0.5"/>
<rect x="292.30" y="280.31" width="4.45" height="3.39" fill="#ffffff" stroke="#222" stroke-width="0.45"/>
<rect x="296.75" y="277.17" width="4.45" height="6.53" fill="#d8d8d8" stroke="#222" stroke-width="0.45"/>
<rect x="301.20" y="275.66" width="4.45" height="8.04" fill="#4a4a4a" stroke="#222" stroke-width="0.45"/>
<rect x="305.65" y="272.96" width="4.45" height="10.74" fill="#000000" stroke="#222" stroke-width="0.45"/>
<line x1="307.88" y1="269.26" x2="307.88" y2="272.96" stroke="#444" stroke-width="0.55"/>
<line x1="306.78" y1="269.26" x2="308.98" y2="269.26" stroke="#333" stroke-width="0.6"/>
<text x="301.20" y="292.00" font-size="5.3" text-anchor="middle" font-weight="bold" fill="#000" stroke="#000" stroke-width="0.15" >0</text>
<rect x="316.27" y="276.79" width="4.45" height="6.91" fill="#ffffff" stroke="#222" stroke-width="0.45"/>
<rect x="320.72" y="272.40" width="4.45" height="11.30" fill="#d8d8d8" stroke="#222" stroke-width="0.45"/>
<rect x="325.17" y="273.02" width="4.45" height="10.68" fill="#4a4a4a" stroke="#222" stroke-width="0.45"/>
<rect x="329.62" y="265.49" width="4.45" height="18.21" fill="#000000" stroke="#222" stroke-width="0.45"/>
<line x1="331.85" y1="262.98" x2="331.85" y2="265.49" stroke="#444" stroke-width="0.55"/>
<line x1="330.75" y1="262.98" x2="332.95" y2="262.98" stroke="#333" stroke-width="0.6"/>
<text x="325.17" y="292.00" font-size="5.3" text-anchor="middle" font-weight="bold" fill="#000" stroke="#000" stroke-width="0.15" >10</text>
<rect x="340.24" y="276.16" width="4.45" height="7.54" fill="#ffffff" stroke="#222" stroke-width="0.45"/>
<rect x="344.69" y="264.23" width="4.45" height="19.47" fill="#d8d8d8" stroke="#222" stroke-width="0.45"/>
<rect x="349.14" y="262.98" width="4.45" height="20.72" fill="#4a4a4a" stroke="#222" stroke-width="0.45"/>
<line x1="351.37" y1="260.46" x2="351.37" y2="262.98" stroke="#444" stroke-width="0.55"/>
<line x1="350.26" y1="260.46" x2="352.47" y2="260.46" stroke="#333" stroke-width="0.6"/>
<rect x="353.59" y="254.81" width="4.45" height="28.89" fill="#000000" stroke="#222" stroke-width="0.45"/>
<line x1="355.82" y1="252.93" x2="355.82" y2="254.81" stroke="#444" stroke-width="0.55"/>
<line x1="354.72" y1="252.93" x2="356.92" y2="252.93" stroke="#333" stroke-width="0.6"/>
<text x="349.14" y="292.00" font-size="5.3" text-anchor="middle" font-weight="bold" fill="#000" stroke="#000" stroke-width="0.15" >100</text>
<rect x="364.21" y="271.77" width="4.45" height="11.93" fill="#ffffff" stroke="#222" stroke-width="0.45"/>
<line x1="366.44" y1="269.26" x2="366.44" y2="271.77" stroke="#444" stroke-width="0.55"/>
<line x1="365.34" y1="269.26" x2="367.54" y2="269.26" stroke="#333" stroke-width="0.6"/>
<rect x="368.66" y="252.93" width="4.45" height="30.77" fill="#d8d8d8" stroke="#222" stroke-width="0.45"/>
<rect x="373.11" y="252.30" width="4.45" height="31.40" fill="#4a4a4a" stroke="#222" stroke-width="0.45"/>
<rect x="377.56" y="245.39" width="4.45" height="38.31" fill="#000000" stroke="#222" stroke-width="0.45"/>
<text x="373.11" y="292.00" font-size="5.3" text-anchor="middle" font-weight="bold" fill="#000" stroke="#000" stroke-width="0.15" >200</text>
<text x="338.60" y="220.30" font-size="7.5" text-anchor="middle" font-weight="bold" fill="#000" stroke="#000" stroke-width="0.15" >CEM C1-15</text>
<text x="337.50" y="300.50" font-size="6.05" text-anchor="middle" font-weight="bold" fill="#000" stroke="#000" stroke-width="0.15" >Prednisolone (µM)</text>
<text x="270.40" y="252.30" font-size="6.0" text-anchor="middle" font-weight="bold" fill="#000" stroke="#000" stroke-width="0.15" transform="rotate(-90 270.40 252.30)" dominant-baseline="central">cell death (%)</text>
<rect x="291.40" y="222.40" width="2.2" height="2.2" fill="#ffffff" stroke="#333" stroke-width="0.8"/>
<text x="295.40" y="225.30" font-size="5.0" text-anchor="start" font-weight="bold" fill="#000" stroke="#000" stroke-width="0.15" transform="translate(295.40 0) scale(1.13 1) translate(-295.40 0)">Ctrl</text>
<rect x="291.40" y="229.40" width="2.2" height="2.2" fill="#d8d8d8" stroke="#333" stroke-width="0.8"/>
<text x="295.40" y="231.90" font-size="5.0" text-anchor="start" font-weight="bold" fill="#000" stroke="#000" stroke-width="0.15" transform="translate(295.40 0) scale(1.13 1) translate(-295.40 0)">1 µM BV6</text>
<rect x="291.40" y="235.40" width="2.2" height="2.2" fill="#4a4a4a" stroke="#333" stroke-width="0.8"/>
<text x="295.40" y="238.50" font-size="5.0" text-anchor="start" font-weight="bold" fill="#000" stroke="#000" stroke-width="0.15" transform="translate(295.40 0) scale(1.13 1) translate(-295.40 0)">1.5 µM BV6</text>
<rect x="291.40" y="242.40" width="2.2" height="2.2" fill="#000000" stroke="#333" stroke-width="0.8"/>
<text x="295.40" y="245.10" font-size="5.0" text-anchor="start" font-weight="bold" fill="#000" stroke="#000" stroke-width="0.15" transform="translate(295.40 0) scale(1.13 1) translate(-295.40 0)">2 µM BV6</text>
<line x1="421.40" y1="220.60" x2="421.40" y2="283.70" stroke="#8a8a8a" stroke-width="0.6"/>
<line x1="419.90" y1="283.70" x2="517.50" y2="283.70" stroke="#8a8a8a" stroke-width="0.6"/>
<line x1="419.90" y1="283.70" x2="421.40" y2="283.70" stroke="#8a8a8a" stroke-width="0.5"/>
<text x="416.80" y="285.50" font-size="5.0" text-anchor="end" font-weight="bold" fill="#000" stroke="#000" stroke-width="0.15" >0</text>
<line x1="419.90" y1="277.42" x2="421.40" y2="277.42" stroke="#8a8a8a" stroke-width="0.5"/>
<text x="416.80" y="279.22" font-size="5.0" text-anchor="end" font-weight="bold" fill="#000" stroke="#000" stroke-width="0.15" >10</text>
<line x1="419.90" y1="271.14" x2="421.40" y2="271.14" stroke="#8a8a8a" stroke-width="0.5"/>
<text x="416.80" y="272.94" font-size="5.0" text-anchor="end" font-weight="bold" fill="#000" stroke="#000" stroke-width="0.15" >20</text>
<line x1="419.90" y1="264.86" x2="421.40" y2="264.86" stroke="#8a8a8a" stroke-width="0.5"/>
<text x="416.80" y="266.66" font-size="5.0" text-anchor="end" font-weight="bold" fill="#000" stroke="#000" stroke-width="0.15" >30</text>
<line x1="419.90" y1="258.58" x2="421.40" y2="258.58" stroke="#8a8a8a" stroke-width="0.5"/>
<text x="416.80" y="260.38" font-size="5.0" text-anchor="end" font-weight="bold" fill="#000" stroke="#000" stroke-width="0.15" >40</text>
<line x1="419.90" y1="252.30" x2="421.40" y2="252.30" stroke="#8a8a8a" stroke-width="0.5"/>
<text x="416.80" y="254.10" font-size="5.0" text-anchor="end" font-weight="bold" fill="#000" stroke="#000" stroke-width="0.15" >50</text>
<line x1="419.90" y1="246.02" x2="421.40" y2="246.02" stroke="#8a8a8a" stroke-width="0.5"/>
<text x="416.80" y="247.82" font-size="5.0" text-anchor="end" font-weight="bold" fill="#000" stroke="#000" stroke-width="0.15" >60</text>
<line x1="419.90" y1="239.74" x2="421.40" y2="239.74" stroke="#8a8a8a" stroke-width="0.5"/>
<text x="416.80" y="241.54" font-size="5.0" text-anchor="end" font-weight="bold" fill="#000" stroke="#000" stroke-width="0.15" >70</text>
<line x1="419.90" y1="233.46" x2="421.40" y2="233.46" stroke="#8a8a8a" stroke-width="0.5"/>
<text x="416.80" y="235.26" font-size="5.0" text-anchor="end" font-weight="bold" fill="#000" stroke="#000" stroke-width="0.15" >80</text>
<line x1="419.90" y1="227.18" x2="421.40" y2="227.18" stroke="#8a8a8a" stroke-width="0.5"/>
<text x="416.80" y="228.98" font-size="5.0" text-anchor="end" font-weight="bold" fill="#000" stroke="#000" stroke-width="0.15" >90</text>
<line x1="419.90" y1="220.90" x2="421.40" y2="220.90" stroke="#8a8a8a" stroke-width="0.5"/>
<text x="416.80" y="222.70" font-size="5.0" text-anchor="end" font-weight="bold" fill="#000" stroke="#000" stroke-width="0.15" >100</text>
<line x1="421.40" y1="283.70" x2="421.40" y2="285.00" stroke="#8a8a8a" stroke-width="0.5"/>
<line x1="446.12" y1="283.70" x2="446.12" y2="285.00" stroke="#8a8a8a" stroke-width="0.5"/>
<line x1="470.15" y1="283.70" x2="470.15" y2="285.00" stroke="#8a8a8a" stroke-width="0.5"/>
<line x1="494.18" y1="283.70" x2="494.18" y2="285.00" stroke="#8a8a8a" stroke-width="0.5"/>
<line x1="517.50" y1="283.70" x2="517.50" y2="285.00" stroke="#8a8a8a" stroke-width="0.5"/>
<rect x="425.25" y="278.68" width="4.42" height="5.02" fill="#ffffff" stroke="#222" stroke-width="0.45"/>
<rect x="429.68" y="277.73" width="4.42" height="5.97" fill="#d8d8d8" stroke="#222" stroke-width="0.45"/>
<rect x="434.10" y="273.34" width="4.42" height="10.36" fill="#6e6e6e" stroke="#222" stroke-width="0.45"/>
<rect x="438.52" y="272.77" width="4.42" height="10.93" fill="#000000" stroke="#222" stroke-width="0.45"/>
<line x1="440.74" y1="270.51" x2="440.74" y2="272.77" stroke="#444" stroke-width="0.55"/>
<line x1="439.64" y1="270.51" x2="441.84" y2="270.51" stroke="#333" stroke-width="0.6"/>
<text x="434.10" y="292.00" font-size="5.3" text-anchor="middle" font-weight="bold" fill="#000" stroke="#000" stroke-width="0.15" >0</text>
<rect x="449.28" y="276.16" width="4.42" height="7.54" fill="#ffffff" stroke="#222" stroke-width="0.45"/>
<rect x="453.70" y="274.28" width="4.42" height="9.42" fill="#d8d8d8" stroke="#222" stroke-width="0.45"/>
<rect x="458.13" y="269.26" width="4.42" height="14.44" fill="#6e6e6e" stroke="#222" stroke-width="0.45"/>
<rect x="462.55" y="257.95" width="4.42" height="25.75" fill="#000000" stroke="#222" stroke-width="0.45"/>
<text x="458.13" y="292.00" font-size="5.3" text-anchor="middle" font-weight="bold" fill="#000" stroke="#000" stroke-width="0.15" >100</text>
<rect x="473.31" y="273.02" width="4.42" height="10.68" fill="#ffffff" stroke="#222" stroke-width="0.45"/>
<rect x="477.74" y="268.63" width="4.42" height="15.07" fill="#d8d8d8" stroke="#222" stroke-width="0.45"/>
<rect x="482.16" y="262.35" width="4.42" height="21.35" fill="#6e6e6e" stroke="#222" stroke-width="0.45"/>
<rect x="486.58" y="241.62" width="4.42" height="42.08" fill="#000000" stroke="#222" stroke-width="0.45"/>
<text x="482.16" y="292.00" font-size="5.3" text-anchor="middle" font-weight="bold" fill="#000" stroke="#000" stroke-width="0.15" >200</text>
<rect x="497.34" y="267.37" width="4.42" height="16.33" fill="#ffffff" stroke="#222" stroke-width="0.45"/>
<rect x="501.77" y="257.95" width="4.42" height="25.75" fill="#d8d8d8" stroke="#222" stroke-width="0.45"/>
<rect x="506.19" y="248.53" width="4.42" height="35.17" fill="#6e6e6e" stroke="#222" stroke-width="0.45"/>
<rect x="510.62" y="233.46" width="4.42" height="50.24" fill="#000000" stroke="#222" stroke-width="0.45"/>
<line x1="512.83" y1="230.32" x2="512.83" y2="233.46" stroke="#444" stroke-width="0.55"/>
<line x1="511.73" y1="230.32" x2="513.93" y2="230.32" stroke="#333" stroke-width="0.6"/>
<text x="506.19" y="292.00" font-size="5.3" text-anchor="middle" font-weight="bold" fill="#000" stroke="#000" stroke-width="0.15" >300</text>
<text x="472.50" y="220.30" font-size="7.5" text-anchor="middle" font-weight="bold" fill="#000" stroke="#000" stroke-width="0.15" >Molt-8</text>
<text x="470.00" y="300.50" font-size="6.05" text-anchor="middle" font-weight="bold" fill="#000" stroke="#000" stroke-width="0.15" >Prednisolone (µM)</text>
<text x="403.40" y="252.30" font-size="6.0" text-anchor="middle" font-weight="bold" fill="#000" stroke="#000" stroke-width="0.15" transform="rotate(-90 403.40 252.30)" dominant-baseline="central">cell death (%)</text>
<rect x="424.40" y="222.40" width="2.2" height="2.2" fill="#ffffff" stroke="#333" stroke-width="0.8"/>
<text x="428.40" y="225.70" font-size="5.0" text-anchor="start" font-weight="bold" fill="#000" stroke="#000" stroke-width="0.15" transform="translate(428.40 0) scale(1.13 1) translate(-428.40 0)">Ctrl</text>
<rect x="424.40" y="229.40" width="2.2" height="2.2" fill="#d8d8d8" stroke="#333" stroke-width="0.8"/>
<text x="428.40" y="232.30" font-size="5.0" text-anchor="start" font-weight="bold" fill="#000" stroke="#000" stroke-width="0.15" transform="translate(428.40 0) scale(1.13 1) translate(-428.40 0)">3 µM BV6</text>
<rect x="424.40" y="236.40" width="2.2" height="2.2" fill="#7a7a7a" stroke="#333" stroke-width="0.8"/>
<text x="428.40" y="238.90" font-size="5.0" text-anchor="start" font-weight="bold" fill="#000" stroke="#000" stroke-width="0.15" transform="translate(428.40 0) scale(1.13 1) translate(-428.40 0)">4 µM BV6</text>
<rect x="424.40" y="242.40" width="2.2" height="2.2" fill="#000000" stroke="#333" stroke-width="0.8"/>
<text x="428.40" y="245.50" font-size="5.0" text-anchor="start" font-weight="bold" fill="#000" stroke="#000" stroke-width="0.15" transform="translate(428.40 0) scale(1.13 1) translate(-428.40 0)">5 µM BV6</text>
<line x1="24.50" y1="323.90" x2="24.50" y2="386.10" stroke="#8a8a8a" stroke-width="0.6"/>
<line x1="23.00" y1="386.10" x2="121.00" y2="386.10" stroke="#8a8a8a" stroke-width="0.6"/>
<line x1="23.00" y1="386.10" x2="24.50" y2="386.10" stroke="#8a8a8a" stroke-width="0.5"/>
<text x="19.90" y="387.90" font-size="5.0" text-anchor="end" font-weight="bold" fill="#000" stroke="#000" stroke-width="0.15" >0</text>
<line x1="23.00" y1="379.91" x2="24.50" y2="379.91" stroke="#8a8a8a" stroke-width="0.5"/>
<text x="19.90" y="381.71" font-size="5.0" text-anchor="end" font-weight="bold" fill="#000" stroke="#000" stroke-width="0.15" >10</text>
<line x1="23.00" y1="373.72" x2="24.50" y2="373.72" stroke="#8a8a8a" stroke-width="0.5"/>
<text x="19.90" y="375.52" font-size="5.0" text-anchor="end" font-weight="bold" fill="#000" stroke="#000" stroke-width="0.15" >20</text>
<line x1="23.00" y1="367.53" x2="24.50" y2="367.53" stroke="#8a8a8a" stroke-width="0.5"/>
<text x="19.90" y="369.33" font-size="5.0" text-anchor="end" font-weight="bold" fill="#000" stroke="#000" stroke-width="0.15" >30</text>
<line x1="23.00" y1="361.34" x2="24.50" y2="361.34" stroke="#8a8a8a" stroke-width="0.5"/>
<text x="19.90" y="363.14" font-size="5.0" text-anchor="end" font-weight="bold" fill="#000" stroke="#000" stroke-width="0.15" >40</text>
<line x1="23.00" y1="355.15" x2="24.50" y2="355.15" stroke="#8a8a8a" stroke-width="0.5"/>
<text x="19.90" y="356.95" font-size="5.0" text-anchor="end" font-weight="bold" fill="#000" stroke="#000" stroke-width="0.15" >50</text>
<line x1="23.00" y1="348.96" x2="24.50" y2="348.96" stroke="#8a8a8a" stroke-width="0.5"/>
<text x="19.90" y="350.76" font-size="5.0" text-anchor="end" font-weight="bold" fill="#000" stroke="#000" stroke-width="0.15" >60</text>
<line x1="23.00" y1="342.77" x2="24.50" y2="342.77" stroke="#8a8a8a" stroke-width="0.5"/>
<text x="19.90" y="344.57" font-size="5.0" text-anchor="end" font-weight="bold" fill="#000" stroke="#000" stroke-width="0.15" >70</text>
<line x1="23.00" y1="336.58" x2="24.50" y2="336.58" stroke="#8a8a8a" stroke-width="0.5"/>
<text x="19.90" y="338.38" font-size="5.0" text-anchor="end" font-weight="bold" fill="#000" stroke="#000" stroke-width="0.15" >80</text>
<line x1="23.00" y1="330.39" x2="24.50" y2="330.39" stroke="#8a8a8a" stroke-width="0.5"/>
<text x="19.90" y="332.19" font-size="5.0" text-anchor="end" font-weight="bold" fill="#000" stroke="#000" stroke-width="0.15" >90</text>
<line x1="23.00" y1="324.20" x2="24.50" y2="324.20" stroke="#8a8a8a" stroke-width="0.5"/>
<text x="19.90" y="326.00" font-size="5.0" text-anchor="end" font-weight="bold" fill="#000" stroke="#000" stroke-width="0.15" >100</text>
<line x1="24.50" y1="386.10" x2="24.50" y2="387.40" stroke="#8a8a8a" stroke-width="0.5"/>
<line x1="43.77" y1="386.10" x2="43.77" y2="387.40" stroke="#8a8a8a" stroke-width="0.5"/>
<line x1="63.11" y1="386.10" x2="63.11" y2="387.40" stroke="#8a8a8a" stroke-width="0.5"/>
<line x1="82.45" y1="386.10" x2="82.45" y2="387.40" stroke="#8a8a8a" stroke-width="0.5"/>
<line x1="101.79" y1="386.10" x2="101.79" y2="387.40" stroke="#8a8a8a" stroke-width="0.5"/>
<line x1="121.00" y1="386.10" x2="121.00" y2="387.40" stroke="#8a8a8a" stroke-width="0.5"/>
<rect x="26.60" y="383.00" width="3.75" height="3.10" fill="#ffffff" stroke="#222" stroke-width="0.45"/>
<rect x="30.35" y="379.29" width="3.75" height="6.81" fill="#d8d8d8" stroke="#222" stroke-width="0.45"/>
<rect x="34.10" y="378.05" width="3.75" height="8.05" fill="#6e6e6e" stroke="#222" stroke-width="0.45"/>
<rect x="37.85" y="377.43" width="3.75" height="8.67" fill="#000000" stroke="#222" stroke-width="0.45"/>
<text x="34.10" y="394.90" font-size="5.3" text-anchor="middle" font-weight="bold" fill="#000" stroke="#000" stroke-width="0.15" >0</text>
<rect x="45.94" y="382.39" width="3.75" height="3.71" fill="#ffffff" stroke="#222" stroke-width="0.45"/>
<rect x="49.69" y="378.05" width="3.75" height="8.05" fill="#d8d8d8" stroke="#222" stroke-width="0.45"/>
<rect x="53.44" y="377.43" width="3.75" height="8.67" fill="#6e6e6e" stroke="#222" stroke-width="0.45"/>
<rect x="57.19" y="377.43" width="3.75" height="8.67" fill="#000000" stroke="#222" stroke-width="0.45"/>
<text x="53.44" y="394.90" font-size="5.3" text-anchor="middle" font-weight="bold" fill="#000" stroke="#000" stroke-width="0.15" >10</text>
<rect x="65.28" y="383.00" width="3.75" height="3.10" fill="#ffffff" stroke="#222" stroke-width="0.45"/>
<rect x="69.03" y="378.05" width="3.75" height="8.05" fill="#d8d8d8" stroke="#222" stroke-width="0.45"/>
<rect x="72.78" y="374.34" width="3.75" height="11.76" fill="#6e6e6e" stroke="#222" stroke-width="0.45"/>
<rect x="76.53" y="373.72" width="3.75" height="12.38" fill="#000000" stroke="#222" stroke-width="0.45"/>
<text x="72.78" y="394.90" font-size="5.3" text-anchor="middle" font-weight="bold" fill="#000" stroke="#000" stroke-width="0.15" >100</text>
<rect x="84.62" y="381.77" width="3.75" height="4.33" fill="#ffffff" stroke="#222" stroke-width="0.45"/>
<rect x="88.37" y="369.39" width="3.75" height="16.71" fill="#d8d8d8" stroke="#222" stroke-width="0.45"/>
<line x1="90.25" y1="366.91" x2="90.25" y2="369.39" stroke="#444" stroke-width="0.55"/>
<line x1="89.15" y1="366.91" x2="91.34" y2="366.91" stroke="#333" stroke-width="0.6"/>
<rect x="92.12" y="364.44" width="3.75" height="21.67" fill="#6e6e6e" stroke="#222" stroke-width="0.45"/>
<rect x="95.87" y="362.58" width="3.75" height="23.52" fill="#000000" stroke="#222" stroke-width="0.45"/>
<line x1="97.75" y1="360.10" x2="97.75" y2="362.58" stroke="#444" stroke-width="0.55"/>
<line x1="96.65" y1="360.10" x2="98.84" y2="360.10" stroke="#333" stroke-width="0.6"/>
<text x="92.12" y="394.90" font-size="5.3" text-anchor="middle" font-weight="bold" fill="#000" stroke="#000" stroke-width="0.15" >200</text>
<rect x="103.96" y="379.91" width="3.75" height="6.19" fill="#ffffff" stroke="#222" stroke-width="0.45"/>
<rect x="107.71" y="360.10" width="3.75" height="26.00" fill="#d8d8d8" stroke="#222" stroke-width="0.45"/>
<line x1="109.59" y1="357.63" x2="109.59" y2="360.10" stroke="#444" stroke-width="0.55"/>
<line x1="108.49" y1="357.63" x2="110.69" y2="357.63" stroke="#333" stroke-width="0.6"/>
<rect x="111.46" y="357.01" width="3.75" height="29.09" fill="#6e6e6e" stroke="#222" stroke-width="0.45"/>
<line x1="113.34" y1="355.15" x2="113.34" y2="357.01" stroke="#444" stroke-width="0.55"/>
<line x1="112.24" y1="355.15" x2="114.44" y2="355.15" stroke="#333" stroke-width="0.6"/>
<rect x="115.21" y="353.91" width="3.75" height="32.19" fill="#000000" stroke="#222" stroke-width="0.45"/>
<text x="111.46" y="394.90" font-size="5.3" text-anchor="middle" font-weight="bold" fill="#000" stroke="#000" stroke-width="0.15" >300</text>
<text x="70.00" y="321.90" font-size="7.5" text-anchor="middle" font-weight="bold" fill="#000" stroke="#000" stroke-width="0.15" >MHH-cALL4</text>
<text x="72.00" y="401.10" font-size="6.05" text-anchor="middle" font-weight="bold" fill="#000" stroke="#000" stroke-width="0.15" >Prednisolone (µM)</text>
<text x="6.50" y="355.15" font-size="6.0" text-anchor="middle" font-weight="bold" fill="#000" stroke="#000" stroke-width="0.15" transform="rotate(-90 6.50 355.15)" dominant-baseline="central">cell death (%)</text>
<rect x="27.40" y="325.40" width="2.2" height="2.2" fill="#ffffff" stroke="#333" stroke-width="0.8"/>
<text x="31.50" y="328.60" font-size="5.0" text-anchor="start" font-weight="bold" fill="#000" stroke="#000" stroke-width="0.15" transform="translate(31.50 0) scale(1.13 1) translate(-31.50 0)">Ctrl</text>
<rect x="27.40" y="332.40" width="2.2" height="2.2" fill="#d8d8d8" stroke="#333" stroke-width="0.8"/>
<text x="31.50" y="335.00" font-size="5.0" text-anchor="start" font-weight="bold" fill="#000" stroke="#000" stroke-width="0.15" transform="translate(31.50 0) scale(1.13 1) translate(-31.50 0)">0.6 µM BV6</text>
<rect x="27.40" y="338.40" width="2.2" height="2.2" fill="#7a7a7a" stroke="#333" stroke-width="0.8"/>
<text x="31.50" y="341.40" font-size="5.0" text-anchor="start" font-weight="bold" fill="#000" stroke="#000" stroke-width="0.15" transform="translate(31.50 0) scale(1.13 1) translate(-31.50 0)">0.7 µM BV6</text>
<rect x="27.40" y="344.40" width="2.2" height="2.2" fill="#000000" stroke="#333" stroke-width="0.8"/>
<text x="31.50" y="347.80" font-size="5.0" text-anchor="start" font-weight="bold" fill="#000" stroke="#000" stroke-width="0.15" transform="translate(31.50 0) scale(1.13 1) translate(-31.50 0)">0.8 µM BV6</text>
<line x1="158.00" y1="323.90" x2="158.00" y2="386.10" stroke="#8a8a8a" stroke-width="0.6"/>
<line x1="156.50" y1="386.10" x2="252.50" y2="386.10" stroke="#8a8a8a" stroke-width="0.6"/>
<line x1="156.50" y1="386.10" x2="158.00" y2="386.10" stroke="#8a8a8a" stroke-width="0.5"/>
<text x="153.40" y="387.90" font-size="5.0" text-anchor="end" font-weight="bold" fill="#000" stroke="#000" stroke-width="0.15" >0</text>
<line x1="156.50" y1="379.91" x2="158.00" y2="379.91" stroke="#8a8a8a" stroke-width="0.5"/>
<text x="153.40" y="381.71" font-size="5.0" text-anchor="end" font-weight="bold" fill="#000" stroke="#000" stroke-width="0.15" >10</text>
<line x1="156.50" y1="373.72" x2="158.00" y2="373.72" stroke="#8a8a8a" stroke-width="0.5"/>
<text x="153.40" y="375.52" font-size="5.0" text-anchor="end" font-weight="bold" fill="#000" stroke="#000" stroke-width="0.15" >20</text>
<line x1="156.50" y1="367.53" x2="158.00" y2="367.53" stroke="#8a8a8a" stroke-width="0.5"/>
<text x="153.40" y="369.33" font-size="5.0" text-anchor="end" font-weight="bold" fill="#000" stroke="#000" stroke-width="0.15" >30</text>
<line x1="156.50" y1="361.34" x2="158.00" y2="361.34" stroke="#8a8a8a" stroke-width="0.5"/>
<text x="153.40" y="363.14" font-size="5.0" text-anchor="end" font-weight="bold" fill="#000" stroke="#000" stroke-width="0.15" >40</text>
<line x1="156.50" y1="355.15" x2="158.00" y2="355.15" stroke="#8a8a8a" stroke-width="0.5"/>
<text x="153.40" y="356.95" font-size="5.0" text-anchor="end" font-weight="bold" fill="#000" stroke="#000" stroke-width="0.15" >50</text>
<line x1="156.50" y1="348.96" x2="158.00" y2="348.96" stroke="#8a8a8a" stroke-width="0.5"/>
<text x="153.40" y="350.76" font-size="5.0" text-anchor="end" font-weight="bold" fill="#000" stroke="#000" stroke-width="0.15" >60</text>
<line x1="156.50" y1="342.77" x2="158.00" y2="342.77" stroke="#8a8a8a" stroke-width="0.5"/>
<text x="153.40" y="344.57" font-size="5.0" text-anchor="end" font-weight="bold" fill="#000" stroke="#000" stroke-width="0.15" >70</text>
<line x1="156.50" y1="336.58" x2="158.00" y2="336.58" stroke="#8a8a8a" stroke-width="0.5"/>
<text x="153.40" y="338.38" font-size="5.0" text-anchor="end" font-weight="bold" fill="#000" stroke="#000" stroke-width="0.15" >80</text>
<line x1="156.50" y1="330.39" x2="158.00" y2="330.39" stroke="#8a8a8a" stroke-width="0.5"/>
<text x="153.40" y="332.19" font-size="5.0" text-anchor="end" font-weight="bold" fill="#000" stroke="#000" stroke-width="0.15" >90</text>
<line x1="156.50" y1="324.20" x2="158.00" y2="324.20" stroke="#8a8a8a" stroke-width="0.5"/>
<text x="153.40" y="326.00" font-size="5.0" text-anchor="end" font-weight="bold" fill="#000" stroke="#000" stroke-width="0.15" >100</text>
<line x1="158.00" y1="386.10" x2="158.00" y2="387.40" stroke="#8a8a8a" stroke-width="0.5"/>
<line x1="176.62" y1="386.10" x2="176.62" y2="387.40" stroke="#8a8a8a" stroke-width="0.5"/>
<line x1="195.47" y1="386.10" x2="195.47" y2="387.40" stroke="#8a8a8a" stroke-width="0.5"/>
<line x1="214.32" y1="386.10" x2="214.32" y2="387.40" stroke="#8a8a8a" stroke-width="0.5"/>
<line x1="233.17" y1="386.10" x2="233.17" y2="387.40" stroke="#8a8a8a" stroke-width="0.5"/>
<line x1="252.50" y1="386.10" x2="252.50" y2="387.40" stroke="#8a8a8a" stroke-width="0.5"/>
<rect x="159.90" y="384.55" width="3.65" height="1.55" fill="#ffffff" stroke="#222" stroke-width="0.45"/>
<rect x="163.55" y="381.15" width="3.65" height="4.95" fill="#d8d8d8" stroke="#222" stroke-width="0.45"/>
<rect x="167.20" y="382.39" width="3.65" height="3.71" fill="#6e6e6e" stroke="#222" stroke-width="0.45"/>
<rect x="170.85" y="379.91" width="3.65" height="6.19" fill="#000000" stroke="#222" stroke-width="0.45"/>
<line x1="172.68" y1="376.81" x2="172.68" y2="379.91" stroke="#444" stroke-width="0.55"/>
<line x1="171.58" y1="376.81" x2="173.78" y2="376.81" stroke="#333" stroke-width="0.6"/>
<text x="167.20" y="394.50" font-size="5.3" text-anchor="middle" font-weight="bold" fill="#000" stroke="#000" stroke-width="0.15" >0</text>
<rect x="178.75" y="384.24" width="3.65" height="1.86" fill="#ffffff" stroke="#222" stroke-width="0.45"/>
<rect x="182.40" y="381.15" width="3.65" height="4.95" fill="#d8d8d8" stroke="#222" stroke-width="0.45"/>
<rect x="186.05" y="382.39" width="3.65" height="3.71" fill="#6e6e6e" stroke="#222" stroke-width="0.45"/>
<rect x="189.70" y="379.29" width="3.65" height="6.81" fill="#000000" stroke="#222" stroke-width="0.45"/>
<text x="186.05" y="394.50" font-size="5.3" text-anchor="middle" font-weight="bold" fill="#000" stroke="#000" stroke-width="0.15" >10</text>
<rect x="197.60" y="383.93" width="3.65" height="2.17" fill="#ffffff" stroke="#222" stroke-width="0.45"/>
<rect x="201.25" y="378.05" width="3.65" height="8.05" fill="#d8d8d8" stroke="#222" stroke-width="0.45"/>
<rect x="204.90" y="379.29" width="3.65" height="6.81" fill="#6e6e6e" stroke="#222" stroke-width="0.45"/>
<rect x="208.55" y="377.43" width="3.65" height="8.67" fill="#000000" stroke="#222" stroke-width="0.45"/>
<text x="204.90" y="394.50" font-size="5.3" text-anchor="middle" font-weight="bold" fill="#000" stroke="#000" stroke-width="0.15" >100</text>
<rect x="216.45" y="383.93" width="3.65" height="2.17" fill="#ffffff" stroke="#222" stroke-width="0.45"/>
<rect x="220.10" y="374.96" width="3.65" height="11.14" fill="#d8d8d8" stroke="#222" stroke-width="0.45"/>
<rect x="223.75" y="373.72" width="3.65" height="12.38" fill="#6e6e6e" stroke="#222" stroke-width="0.45"/>
<rect x="227.40" y="370.93" width="3.65" height="15.17" fill="#000000" stroke="#222" stroke-width="0.45"/>
<text x="223.75" y="394.50" font-size="5.3" text-anchor="middle" font-weight="bold" fill="#000" stroke="#000" stroke-width="0.15" >200</text>
<rect x="235.30" y="382.08" width="3.65" height="4.02" fill="#ffffff" stroke="#222" stroke-width="0.45"/>
<rect x="238.95" y="367.53" width="3.65" height="18.57" fill="#d8d8d8" stroke="#222" stroke-width="0.45"/>
<rect x="242.60" y="367.53" width="3.65" height="18.57" fill="#6e6e6e" stroke="#222" stroke-width="0.45"/>
<rect x="246.25" y="361.96" width="3.65" height="24.14" fill="#000000" stroke="#222" stroke-width="0.45"/>
<text x="242.60" y="394.50" font-size="5.3" text-anchor="middle" font-weight="bold" fill="#000" stroke="#000" stroke-width="0.15" >300</text>
<text x="203.75" y="321.90" font-size="7.5" text-anchor="middle" font-weight="bold" fill="#000" stroke="#000" stroke-width="0.15" >Tanoue</text>
<text x="205.75" y="401.60" font-size="6.05" text-anchor="middle" font-weight="bold" fill="#000" stroke="#000" stroke-width="0.15" >Prednisolone (µM)</text>
<text x="140.00" y="355.15" font-size="6.0" text-anchor="middle" font-weight="bold" fill="#000" stroke="#000" stroke-width="0.15" transform="rotate(-90 140.00 355.15)" dominant-baseline="central">cell death (%)</text>
<rect x="161.40" y="325.40" width="2.2" height="2.2" fill="#ffffff" stroke="#333" stroke-width="0.8"/>
<text x="165.00" y="328.60" font-size="5.0" text-anchor="start" font-weight="bold" fill="#000" stroke="#000" stroke-width="0.15" transform="translate(165.00 0) scale(1.13 1) translate(-165.00 0)">Ctrl</text>
<rect x="161.40" y="332.40" width="2.2" height="2.2" fill="#d8d8d8" stroke="#333" stroke-width="0.8"/>
<text x="165.00" y="335.00" font-size="5.0" text-anchor="start" font-weight="bold" fill="#000" stroke="#000" stroke-width="0.15" transform="translate(165.00 0) scale(1.13 1) translate(-165.00 0)">2µM BV6</text>
<rect x="161.40" y="338.40" width="2.2" height="2.2" fill="#7a7a7a" stroke="#333" stroke-width="0.8"/>
<text x="165.00" y="341.40" font-size="5.0" text-anchor="start" font-weight="bold" fill="#000" stroke="#000" stroke-width="0.15" transform="translate(165.00 0) scale(1.13 1) translate(-165.00 0)">2.3µM BV6</text>
<rect x="161.40" y="344.40" width="2.2" height="2.2" fill="#000000" stroke="#333" stroke-width="0.8"/>
<text x="165.00" y="347.80" font-size="5.0" text-anchor="start" font-weight="bold" fill="#000" stroke="#000" stroke-width="0.15" transform="translate(165.00 0) scale(1.13 1) translate(-165.00 0)">2.9µM BV6</text>
<line x1="288.40" y1="323.90" x2="288.40" y2="386.10" stroke="#8a8a8a" stroke-width="0.6"/>
<line x1="286.90" y1="386.10" x2="385.30" y2="386.10" stroke="#8a8a8a" stroke-width="0.6"/>
<line x1="286.90" y1="386.10" x2="288.40" y2="386.10" stroke="#8a8a8a" stroke-width="0.5"/>
<text x="283.80" y="387.90" font-size="5.0" text-anchor="end" font-weight="bold" fill="#000" stroke="#000" stroke-width="0.15" >0</text>
<line x1="286.90" y1="379.91" x2="288.40" y2="379.91" stroke="#8a8a8a" stroke-width="0.5"/>
<text x="283.80" y="381.71" font-size="5.0" text-anchor="end" font-weight="bold" fill="#000" stroke="#000" stroke-width="0.15" >10</text>
<line x1="286.90" y1="373.72" x2="288.40" y2="373.72" stroke="#8a8a8a" stroke-width="0.5"/>
<text x="283.80" y="375.52" font-size="5.0" text-anchor="end" font-weight="bold" fill="#000" stroke="#000" stroke-width="0.15" >20</text>
<line x1="286.90" y1="367.53" x2="288.40" y2="367.53" stroke="#8a8a8a" stroke-width="0.5"/>
<text x="283.80" y="369.33" font-size="5.0" text-anchor="end" font-weight="bold" fill="#000" stroke="#000" stroke-width="0.15" >30</text>
<line x1="286.90" y1="361.34" x2="288.40" y2="361.34" stroke="#8a8a8a" stroke-width="0.5"/>
<text x="283.80" y="363.14" font-size="5.0" text-anchor="end" font-weight="bold" fill="#000" stroke="#000" stroke-width="0.15" >40</text>
<line x1="286.90" y1="355.15" x2="288.40" y2="355.15" stroke="#8a8a8a" stroke-width="0.5"/>
<text x="283.80" y="356.95" font-size="5.0" text-anchor="end" font-weight="bold" fill="#000" stroke="#000" stroke-width="0.15" >50</text>
<line x1="286.90" y1="348.96" x2="288.40" y2="348.96" stroke="#8a8a8a" stroke-width="0.5"/>
<text x="283.80" y="350.76" font-size="5.0" text-anchor="end" font-weight="bold" fill="#000" stroke="#000" stroke-width="0.15" >60</text>
<line x1="286.90" y1="342.77" x2="288.40" y2="342.77" stroke="#8a8a8a" stroke-width="0.5"/>
<text x="283.80" y="344.57" font-size="5.0" text-anchor="end" font-weight="bold" fill="#000" stroke="#000" stroke-width="0.15" >70</text>
<line x1="286.90" y1="336.58" x2="288.40" y2="336.58" stroke="#8a8a8a" stroke-width="0.5"/>
<text x="283.80" y="338.38" font-size="5.0" text-anchor="end" font-weight="bold" fill="#000" stroke="#000" stroke-width="0.15" >80</text>
<line x1="286.90" y1="330.39" x2="288.40" y2="330.39" stroke="#8a8a8a" stroke-width="0.5"/>
<text x="283.80" y="332.19" font-size="5.0" text-anchor="end" font-weight="bold" fill="#000" stroke="#000" stroke-width="0.15" >90</text>
<line x1="286.90" y1="324.20" x2="288.40" y2="324.20" stroke="#8a8a8a" stroke-width="0.5"/>
<text x="283.80" y="326.00" font-size="5.0" text-anchor="end" font-weight="bold" fill="#000" stroke="#000" stroke-width="0.15" >100</text>
<line x1="288.40" y1="386.10" x2="288.40" y2="387.40" stroke="#8a8a8a" stroke-width="0.5"/>
<line x1="308.50" y1="386.10" x2="308.50" y2="387.40" stroke="#8a8a8a" stroke-width="0.5"/>
<line x1="327.70" y1="386.10" x2="327.70" y2="387.40" stroke="#8a8a8a" stroke-width="0.5"/>
<line x1="346.90" y1="386.10" x2="346.90" y2="387.40" stroke="#8a8a8a" stroke-width="0.5"/>
<line x1="366.10" y1="386.10" x2="366.10" y2="387.40" stroke="#8a8a8a" stroke-width="0.5"/>
<line x1="385.30" y1="386.10" x2="385.30" y2="387.40" stroke="#8a8a8a" stroke-width="0.5"/>
<rect x="291.46" y="384.24" width="3.72" height="1.86" fill="#ffffff" stroke="#222" stroke-width="0.45"/>
<rect x="295.18" y="378.05" width="3.72" height="8.05" fill="#d8d8d8" stroke="#222" stroke-width="0.45"/>
<rect x="298.90" y="374.65" width="3.72" height="11.45" fill="#6e6e6e" stroke="#222" stroke-width="0.45"/>
<rect x="302.62" y="366.91" width="3.72" height="19.19" fill="#000000" stroke="#222" stroke-width="0.45"/>
<line x1="304.48" y1="364.44" x2="304.48" y2="366.91" stroke="#444" stroke-width="0.55"/>
<line x1="303.38" y1="364.44" x2="305.58" y2="364.44" stroke="#333" stroke-width="0.6"/>
<text x="298.90" y="394.50" font-size="5.3" text-anchor="middle" font-weight="bold" fill="#000" stroke="#000" stroke-width="0.15" >0</text>
<rect x="310.66" y="382.70" width="3.72" height="3.40" fill="#ffffff" stroke="#222" stroke-width="0.45"/>
<line x1="312.52" y1="380.53" x2="312.52" y2="382.70" stroke="#444" stroke-width="0.55"/>
<line x1="311.42" y1="380.53" x2="313.62" y2="380.53" stroke="#333" stroke-width="0.6"/>
<rect x="314.38" y="376.81" width="3.72" height="9.29" fill="#d8d8d8" stroke="#222" stroke-width="0.45"/>
<rect x="318.10" y="374.65" width="3.72" height="11.45" fill="#6e6e6e" stroke="#222" stroke-width="0.45"/>
<rect x="321.82" y="366.91" width="3.72" height="19.19" fill="#000000" stroke="#222" stroke-width="0.45"/>
<line x1="323.68" y1="365.05" x2="323.68" y2="366.91" stroke="#444" stroke-width="0.55"/>
<line x1="322.58" y1="365.05" x2="324.78" y2="365.05" stroke="#333" stroke-width="0.6"/>
<text x="318.10" y="394.50" font-size="5.3" text-anchor="middle" font-weight="bold" fill="#000" stroke="#000" stroke-width="0.15" >10</text>
<rect x="329.86" y="384.24" width="3.72" height="1.86" fill="#ffffff" stroke="#222" stroke-width="0.45"/>
<rect x="333.58" y="373.10" width="3.72" height="13.00" fill="#d8d8d8" stroke="#222" stroke-width="0.45"/>
<rect x="337.30" y="369.39" width="3.72" height="16.71" fill="#6e6e6e" stroke="#222" stroke-width="0.45"/>
<rect x="341.02" y="358.25" width="3.72" height="27.86" fill="#000000" stroke="#222" stroke-width="0.45"/>
<line x1="342.88" y1="355.77" x2="342.88" y2="358.25" stroke="#444" stroke-width="0.55"/>
<line x1="341.78" y1="355.77" x2="343.98" y2="355.77" stroke="#333" stroke-width="0.6"/>
<text x="337.30" y="394.50" font-size="5.3" text-anchor="middle" font-weight="bold" fill="#000" stroke="#000" stroke-width="0.15" >100</text>
<rect x="349.06" y="383.62" width="3.72" height="2.48" fill="#ffffff" stroke="#222" stroke-width="0.45"/>
<rect x="352.78" y="370.01" width="3.72" height="16.09" fill="#d8d8d8" stroke="#222" stroke-width="0.45"/>
<rect x="356.50" y="364.44" width="3.72" height="21.67" fill="#6e6e6e" stroke="#222" stroke-width="0.45"/>
<rect x="360.22" y="353.91" width="3.72" height="32.19" fill="#000000" stroke="#222" stroke-width="0.45"/>
<line x1="362.08" y1="352.06" x2="362.08" y2="353.91" stroke="#444" stroke-width="0.55"/>
<line x1="360.98" y1="352.06" x2="363.18" y2="352.06" stroke="#333" stroke-width="0.6"/>
<text x="356.50" y="394.50" font-size="5.3" text-anchor="middle" font-weight="bold" fill="#000" stroke="#000" stroke-width="0.15" >200</text>
<rect x="368.26" y="383.00" width="3.72" height="3.10" fill="#ffffff" stroke="#222" stroke-width="0.45"/>
<rect x="371.98" y="363.82" width="3.72" height="22.28" fill="#d8d8d8" stroke="#222" stroke-width="0.45"/>
<rect x="375.70" y="361.34" width="3.72" height="24.76" fill="#6e6e6e" stroke="#222" stroke-width="0.45"/>
<rect x="379.42" y="348.34" width="3.72" height="37.76" fill="#000000" stroke="#222" stroke-width="0.45"/>
<line x1="381.28" y1="347.10" x2="381.28" y2="348.34" stroke="#444" stroke-width="0.55"/>
<line x1="380.18" y1="347.10" x2="382.38" y2="347.10" stroke="#333" stroke-width="0.6"/>
<text x="375.70" y="394.50" font-size="5.3" text-anchor="middle" font-weight="bold" fill="#000" stroke="#000" stroke-width="0.15" >300</text>
<text x="339.60" y="322.60" font-size="8.2" text-anchor="middle" font-weight="bold" fill="#000" stroke="#000" stroke-width="0.15" transform="translate(339.60 0) scale(0.92 1) translate(-339.60 0)">Reh</text>
<text x="336.25" y="401.60" font-size="6.05" text-anchor="middle" font-weight="bold" fill="#000" stroke="#000" stroke-width="0.15" >Prednisolone (µM)</text>
<text x="270.40" y="355.15" font-size="6.0" text-anchor="middle" font-weight="bold" fill="#000" stroke="#000" stroke-width="0.15" transform="rotate(-90 270.40 355.15)" dominant-baseline="central">cell death (%)</text>
<rect x="291.40" y="325.40" width="2.2" height="2.2" fill="#ffffff" stroke="#333" stroke-width="0.8"/>
<text x="295.40" y="328.60" font-size="5.0" text-anchor="start" font-weight="bold" fill="#000" stroke="#000" stroke-width="0.15" transform="translate(295.40 0) scale(1.13 1) translate(-295.40 0)">Ctrl</text>
<rect x="291.40" y="332.40" width="2.2" height="2.2" fill="#d8d8d8" stroke="#333" stroke-width="0.8"/>
<text x="295.40" y="335.00" font-size="5.0" text-anchor="start" font-weight="bold" fill="#000" stroke="#000" stroke-width="0.15" transform="translate(295.40 0) scale(1.13 1) translate(-295.40 0)">0.08 µM BV6</text>
<rect x="291.40" y="338.40" width="2.2" height="2.2" fill="#7a7a7a" stroke="#333" stroke-width="0.8"/>
<text x="295.40" y="341.40" font-size="5.0" text-anchor="start" font-weight="bold" fill="#000" stroke="#000" stroke-width="0.15" transform="translate(295.40 0) scale(1.13 1) translate(-295.40 0)">0.1µM BV6</text>
<rect x="291.40" y="344.40" width="2.2" height="2.2" fill="#000000" stroke="#333" stroke-width="0.8"/>
<text x="295.40" y="347.80" font-size="5.0" text-anchor="start" font-weight="bold" fill="#000" stroke="#000" stroke-width="0.15" transform="translate(295.40 0) scale(1.13 1) translate(-295.40 0)">0.3 µM BV6</text>
<line x1="22.40" y1="431.20" x2="22.40" y2="507.50" stroke="#8a8a8a" stroke-width="0.6"/>
<line x1="20.90" y1="507.50" x2="147.00" y2="507.50" stroke="#8a8a8a" stroke-width="0.6"/>
<line x1="20.90" y1="507.50" x2="22.40" y2="507.50" stroke="#8a8a8a" stroke-width="0.5"/>
<text x="17.80" y="509.40" font-size="5.4" text-anchor="end" font-weight="bold" fill="#000" stroke="#000" stroke-width="0.15" >0</text>
<line x1="20.90" y1="498.00" x2="22.40" y2="498.00" stroke="#8a8a8a" stroke-width="0.5"/>
<text x="17.80" y="499.90" font-size="5.4" text-anchor="end" font-weight="bold" fill="#000" stroke="#000" stroke-width="0.15" >20</text>
<line x1="20.90" y1="488.50" x2="22.40" y2="488.50" stroke="#8a8a8a" stroke-width="0.5"/>
<text x="17.80" y="490.40" font-size="5.4" text-anchor="end" font-weight="bold" fill="#000" stroke="#000" stroke-width="0.15" >40</text>
<line x1="20.90" y1="479.00" x2="22.40" y2="479.00" stroke="#8a8a8a" stroke-width="0.5"/>
<text x="17.80" y="480.90" font-size="5.4" text-anchor="end" font-weight="bold" fill="#000" stroke="#000" stroke-width="0.15" >60</text>
<line x1="20.90" y1="469.50" x2="22.40" y2="469.50" stroke="#8a8a8a" stroke-width="0.5"/>
<text x="17.80" y="471.40" font-size="5.4" text-anchor="end" font-weight="bold" fill="#000" stroke="#000" stroke-width="0.15" >80</text>
<line x1="20.90" y1="460.00" x2="22.40" y2="460.00" stroke="#8a8a8a" stroke-width="0.5"/>
<text x="17.80" y="461.90" font-size="5.4" text-anchor="end" font-weight="bold" fill="#000" stroke="#000" stroke-width="0.15" >100</text>
<line x1="20.90" y1="450.50" x2="22.40" y2="450.50" stroke="#8a8a8a" stroke-width="0.5"/>
<text x="17.80" y="452.40" font-size="5.4" text-anchor="end" font-weight="bold" fill="#000" stroke="#000" stroke-width="0.15" >120</text>
<line x1="20.90" y1="441.00" x2="22.40" y2="441.00" stroke="#8a8a8a" stroke-width="0.5"/>
<text x="17.80" y="442.90" font-size="5.4" text-anchor="end" font-weight="bold" fill="#000" stroke="#000" stroke-width="0.15" >140</text>
<line x1="20.90" y1="431.50" x2="22.40" y2="431.50" stroke="#8a8a8a" stroke-width="0.5"/>
<text x="17.80" y="433.40" font-size="5.4" text-anchor="end" font-weight="bold" fill="#000" stroke="#000" stroke-width="0.15" >160</text>
<line x1="22.95" y1="507.50" x2="22.95" y2="508.80" stroke="#8a8a8a" stroke-width="0.5"/>
<line x1="54.05" y1="507.50" x2="54.05" y2="508.80" stroke="#8a8a8a" stroke-width="0.5"/>
<line x1="85.15" y1="507.50" x2="85.15" y2="508.80" stroke="#8a8a8a" stroke-width="0.5"/>
<line x1="116.25" y1="507.50" x2="116.25" y2="508.80" stroke="#8a8a8a" stroke-width="0.5"/>
<line x1="147.35" y1="507.50" x2="147.35" y2="508.80" stroke="#8a8a8a" stroke-width="0.5"/>
<rect x="32.20" y="460.00" width="12.60" height="47.50" fill="#000"/>
<text x="38.50" y="516.10" font-size="5.4" text-anchor="middle" font-weight="bold" fill="#000" stroke="#000" stroke-width="0.15" >Ctrl</text>
<rect x="63.30" y="466.79" width="12.60" height="40.71" fill="#000"/>
<line x1="69.60" y1="461.43" x2="69.60" y2="466.79" stroke="#444" stroke-width="0.5"/>
<line x1="68.60" y1="461.43" x2="70.60" y2="461.43" stroke="#444" stroke-width="0.5"/>
<text x="69.60" y="516.10" font-size="5.4" text-anchor="middle" font-weight="bold" fill="#000" stroke="#000" stroke-width="0.15" >Dexa</text>
<rect x="94.70" y="445.51" width="12.60" height="61.99" fill="#000"/>
<line x1="101.00" y1="435.77" x2="101.00" y2="445.51" stroke="#444" stroke-width="0.5"/>
<line x1="100.00" y1="435.77" x2="102.00" y2="435.77" stroke="#444" stroke-width="0.5"/>
<text x="101.00" y="516.10" font-size="5.4" text-anchor="middle" font-weight="bold" fill="#000" stroke="#000" stroke-width="0.15" >BV6</text>
<rect x="125.70" y="495.72" width="12.60" height="11.78" fill="#000"/>
<line x1="132.00" y1="491.35" x2="132.00" y2="495.72" stroke="#444" stroke-width="0.5"/>
<line x1="131.00" y1="491.35" x2="133.00" y2="491.35" stroke="#444" stroke-width="0.5"/>
<text x="132.00" y="516.10" font-size="5.4" text-anchor="middle" font-weight="bold" fill="#000" stroke="#000" stroke-width="0.15" textLength="30.6" lengthAdjust="spacing">Dexa + BV6</text>
<text x="81.80" y="423.00" font-size="7.6" text-anchor="middle" font-weight="bold" fill="#000" stroke="#000" stroke-width="0.15" >Jurkat</text>
<text x="3.90" y="467.40" font-size="6.0" text-anchor="middle" font-weight="bold" fill="#000" stroke="#000" stroke-width="0.15" transform="rotate(-90 3.90 467.40)" dominant-baseline="central">colonies (%)</text>
<polyline points="36.4,452.5 36.4,430.3 131.8,430.3 131.8,474.5" fill="none" stroke="#555" stroke-width="0.6"/>
<text x="131.70" y="485.80" font-size="8" text-anchor="middle" font-weight="bold" fill="#000" stroke="#000" stroke-width="0.15" >*</text>
<text x="131.70" y="490.00" font-size="8" text-anchor="middle" font-weight="bold" fill="#000" stroke="#000" stroke-width="0.15" >*</text>
<line x1="185.60" y1="430.82" x2="185.60" y2="506.60" stroke="#8a8a8a" stroke-width="0.6"/>
<line x1="184.10" y1="506.60" x2="314.00" y2="506.60" stroke="#8a8a8a" stroke-width="0.6"/>
<line x1="184.10" y1="506.60" x2="185.60" y2="506.60" stroke="#8a8a8a" stroke-width="0.5"/>
<text x="181.00" y="508.50" font-size="5.4" text-anchor="end" font-weight="bold" fill="#000" stroke="#000" stroke-width="0.15" >0</text>
<line x1="184.10" y1="494.02" x2="185.60" y2="494.02" stroke="#8a8a8a" stroke-width="0.5"/>
<text x="181.00" y="495.92" font-size="5.4" text-anchor="end" font-weight="bold" fill="#000" stroke="#000" stroke-width="0.15" >20</text>
<line x1="184.10" y1="481.44" x2="185.60" y2="481.44" stroke="#8a8a8a" stroke-width="0.5"/>
<text x="181.00" y="483.34" font-size="5.4" text-anchor="end" font-weight="bold" fill="#000" stroke="#000" stroke-width="0.15" >40</text>
<line x1="184.10" y1="468.86" x2="185.60" y2="468.86" stroke="#8a8a8a" stroke-width="0.5"/>
<text x="181.00" y="470.76" font-size="5.4" text-anchor="end" font-weight="bold" fill="#000" stroke="#000" stroke-width="0.15" >60</text>
<line x1="184.10" y1="456.28" x2="185.60" y2="456.28" stroke="#8a8a8a" stroke-width="0.5"/>
<text x="181.00" y="458.18" font-size="5.4" text-anchor="end" font-weight="bold" fill="#000" stroke="#000" stroke-width="0.15" >80</text>
<line x1="184.10" y1="443.70" x2="185.60" y2="443.70" stroke="#8a8a8a" stroke-width="0.5"/>
<text x="181.00" y="445.60" font-size="5.4" text-anchor="end" font-weight="bold" fill="#000" stroke="#000" stroke-width="0.15" >100</text>
<line x1="184.10" y1="431.12" x2="185.60" y2="431.12" stroke="#8a8a8a" stroke-width="0.5"/>
<text x="181.00" y="433.02" font-size="5.4" text-anchor="end" font-weight="bold" fill="#000" stroke="#000" stroke-width="0.15" >120</text>
<line x1="186.90" y1="506.60" x2="186.90" y2="507.90" stroke="#8a8a8a" stroke-width="0.5"/>
<line x1="218.30" y1="506.60" x2="218.30" y2="507.90" stroke="#8a8a8a" stroke-width="0.5"/>
<line x1="249.70" y1="506.60" x2="249.70" y2="507.90" stroke="#8a8a8a" stroke-width="0.5"/>
<line x1="281.10" y1="506.60" x2="281.10" y2="507.90" stroke="#8a8a8a" stroke-width="0.5"/>
<line x1="312.50" y1="506.60" x2="312.50" y2="507.90" stroke="#8a8a8a" stroke-width="0.5"/>
<rect x="196.30" y="443.70" width="12.60" height="62.90" fill="#000"/>
<text x="202.60" y="515.20" font-size="5.4" text-anchor="middle" font-weight="bold" fill="#000" stroke="#000" stroke-width="0.15" >Ctrl</text>
<rect x="227.70" y="446.47" width="12.60" height="60.13" fill="#000"/>
<line x1="234.00" y1="438.67" x2="234.00" y2="446.47" stroke="#444" stroke-width="0.5"/>
<line x1="233.00" y1="438.67" x2="235.00" y2="438.67" stroke="#444" stroke-width="0.5"/>
<text x="234.00" y="515.20" font-size="5.4" text-anchor="middle" font-weight="bold" fill="#000" stroke="#000" stroke-width="0.15" >Dexa</text>
<rect x="259.30" y="452.07" width="12.60" height="54.53" fill="#000"/>
<line x1="265.60" y1="448.73" x2="265.60" y2="452.07" stroke="#444" stroke-width="0.5"/>
<line x1="264.60" y1="448.73" x2="266.60" y2="448.73" stroke="#444" stroke-width="0.5"/>
<text x="265.60" y="515.20" font-size="5.4" text-anchor="middle" font-weight="bold" fill="#000" stroke="#000" stroke-width="0.15" >BV6</text>
<rect x="290.90" y="484.27" width="12.60" height="22.33" fill="#000"/>
<line x1="297.20" y1="478.30" x2="297.20" y2="484.27" stroke="#444" stroke-width="0.5"/>
<line x1="296.20" y1="478.30" x2="298.20" y2="478.30" stroke="#444" stroke-width="0.5"/>
<text x="297.20" y="515.20" font-size="5.4" text-anchor="middle" font-weight="bold" fill="#000" stroke="#000" stroke-width="0.15" textLength="30.6" lengthAdjust="spacing">Dexa + BV6</text>
<text x="249.50" y="423.00" font-size="7.6" text-anchor="middle" font-weight="bold" fill="#000" stroke="#000" stroke-width="0.15" >Molt-4</text>
<text x="169.00" y="467.10" font-size="6.0" text-anchor="middle" font-weight="bold" fill="#000" stroke="#000" stroke-width="0.15" transform="rotate(-90 169.00 467.10)" dominant-baseline="central">colonies (%)</text>
<polyline points="202.5,437.7 202.5,431.2 297.4,431.2 297.4,466" fill="none" stroke="#555" stroke-width="0.6"/>
<text x="297.40" y="477.35" font-size="8" text-anchor="middle" font-weight="bold" fill="#000" stroke="#000" stroke-width="0.15" >*</text>
<text x="1.00" y="9.20" font-size="11.2" text-anchor="start" font-weight="bold" fill="#000" stroke="#000" stroke-width="0.15" >A</text>
<text x="0.60" y="213.80" font-size="11.2" text-anchor="start" font-weight="bold" fill="#000" stroke="#000" stroke-width="0.15" >B</text>
<text x="0.80" y="422.00" font-size="11.2" text-anchor="start" font-weight="bold" fill="#000" stroke="#000" stroke-width="0.15" >C</text>
</svg>
</body></html>
